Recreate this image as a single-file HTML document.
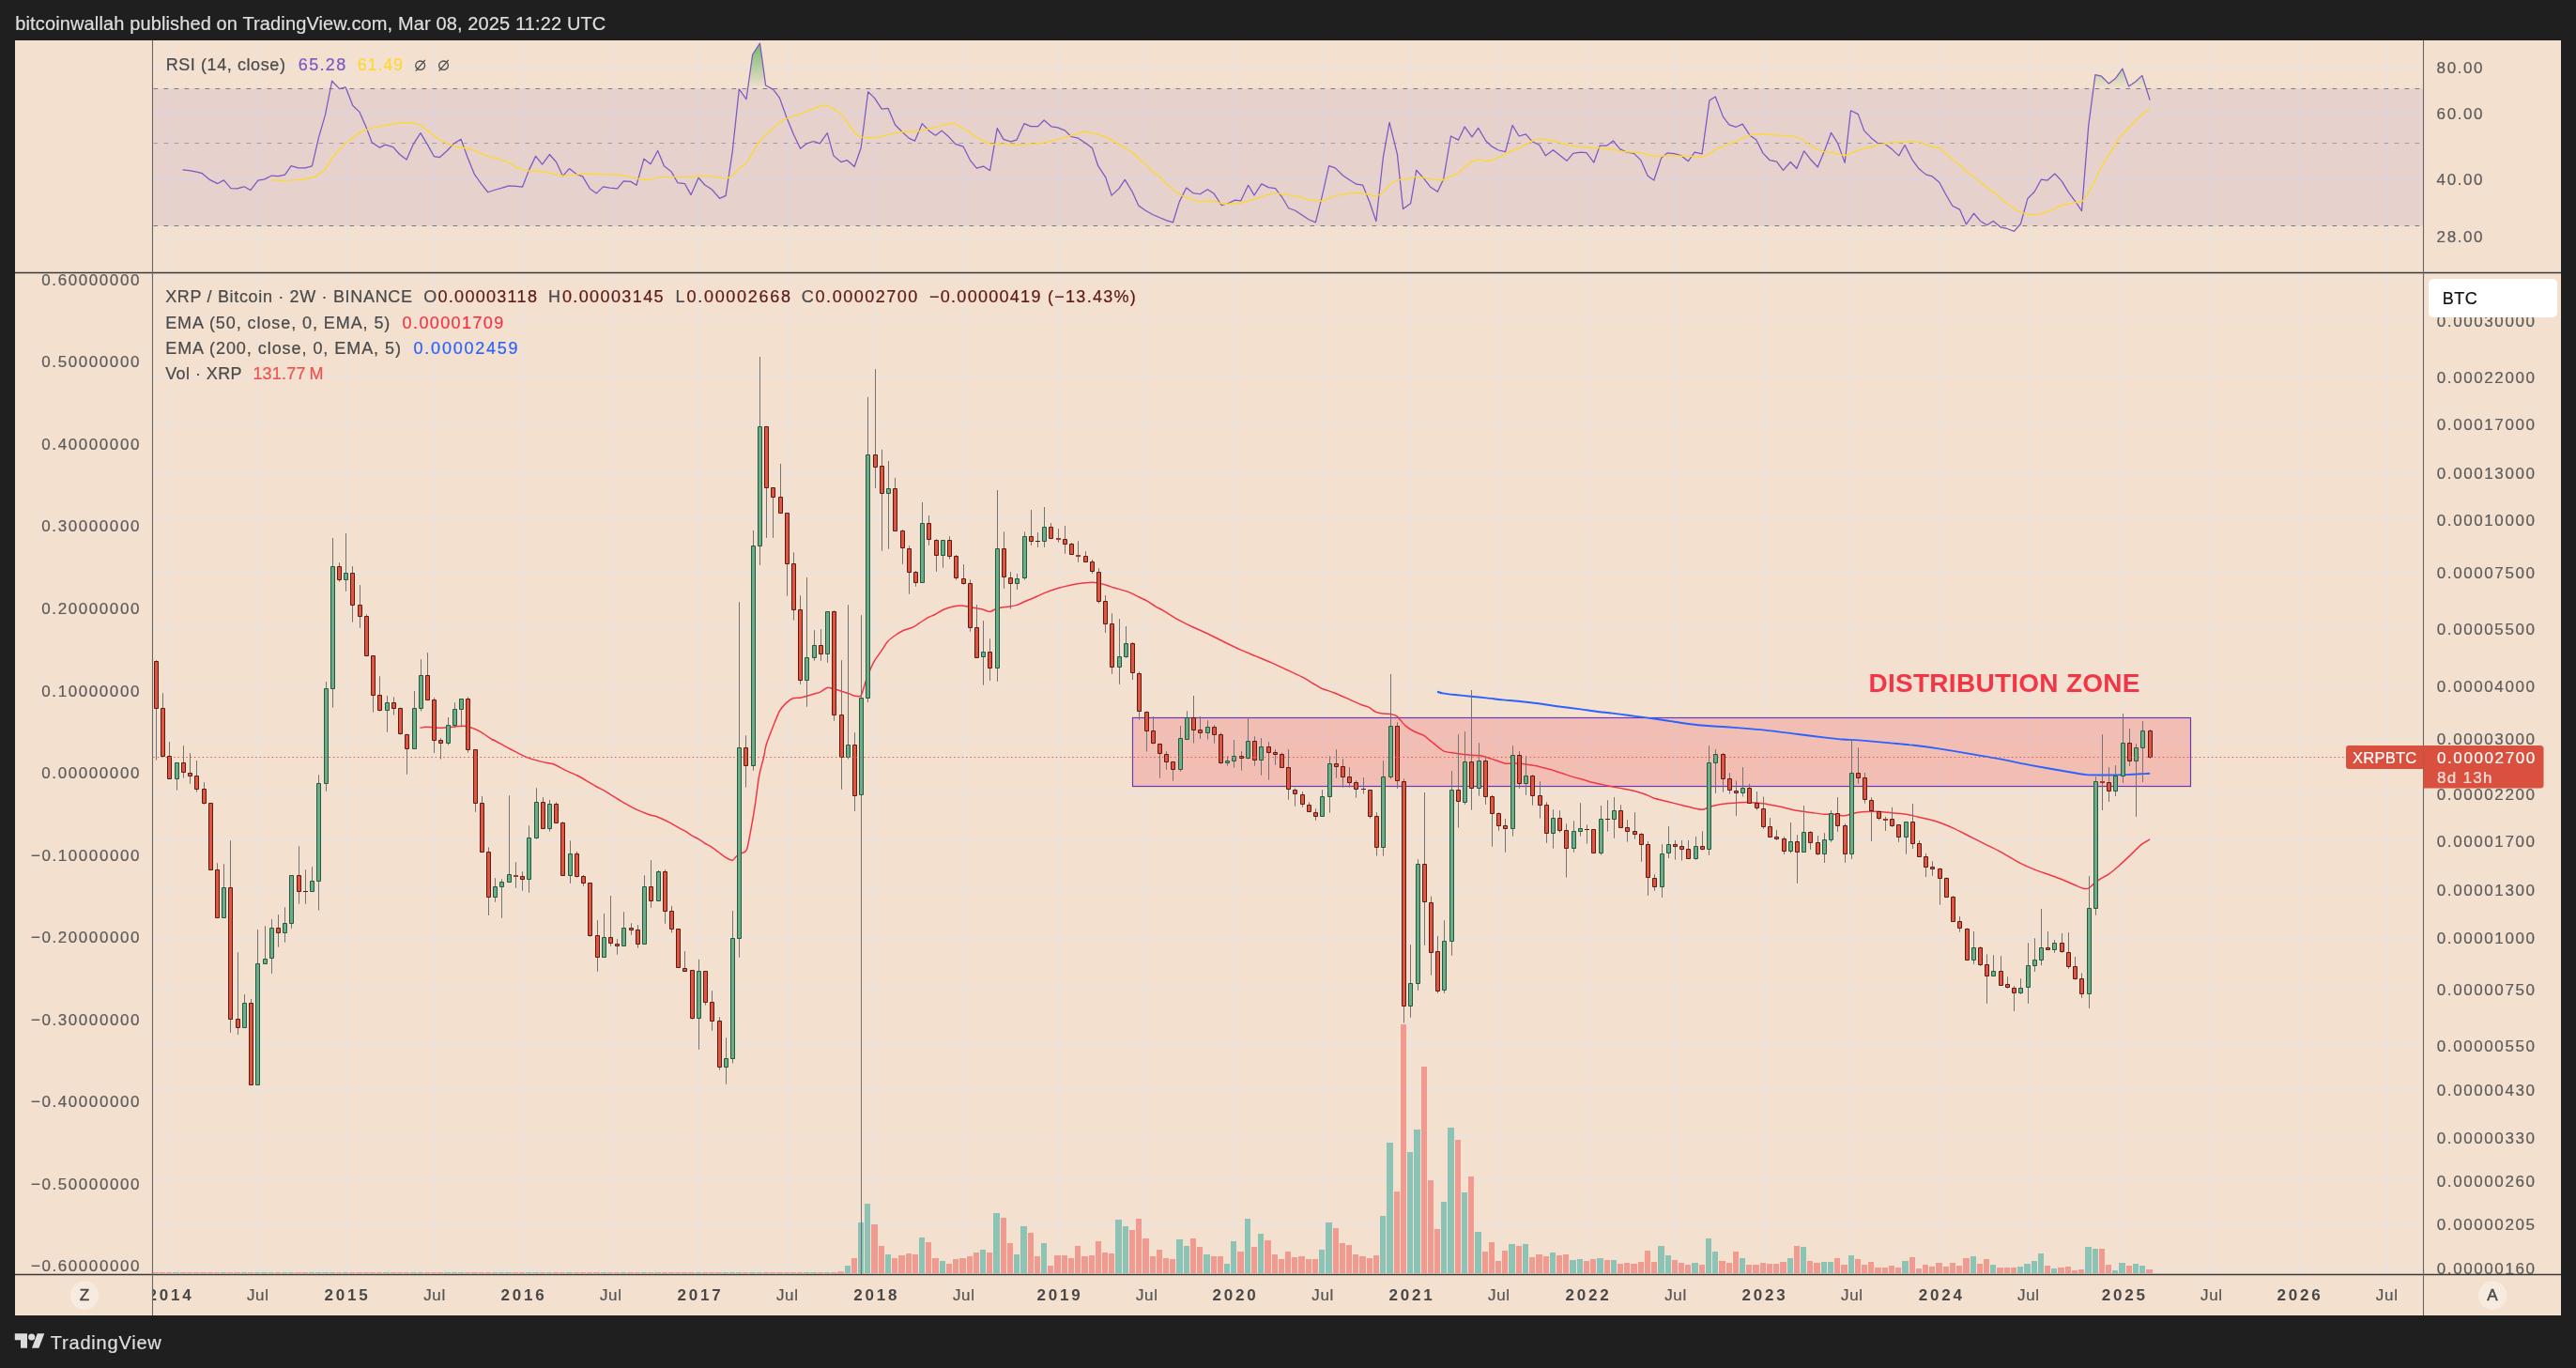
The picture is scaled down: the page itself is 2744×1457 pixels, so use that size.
<!DOCTYPE html>
<html><head><meta charset="utf-8"><title>XRPBTC</title>
<style>
html,body{margin:0;padding:0;background:#1f1f1f;}
body{width:2744px;height:1457px;position:relative;overflow:hidden;font-family:"Liberation Sans",sans-serif;}
.t{position:absolute;white-space:pre;line-height:1;-webkit-text-stroke:0.22px currentColor;}
svg{position:absolute;left:0;top:0;}
</style></head><body>
<svg width="2744" height="1457" viewBox="0 0 2744 1457">
<rect x="16" y="43" width="2712" height="1358" fill="#f3e0cf"/>
<path d="M180.5 43V1357.5M274.5 43V1357.5M368.5 43V1357.5M462.5 43V1357.5M556.5 43V1357.5M650.5 43V1357.5M744.5 43V1357.5M838.5 43V1357.5M932.5 43V1357.5M1026.5 43V1357.5M1127.5 43V1357.5M1221.5 43V1357.5M1314.5 43V1357.5M1408.5 43V1357.5M1502.5 43V1357.5M1596.5 43V1357.5M1690.5 43V1357.5M1784.5 43V1357.5M1878.5 43V1357.5M1972.5 43V1357.5M2066.5 43V1357.5M2160.5 43V1357.5M2261.5 43V1357.5M2355.5 43V1357.5M2448.5 43V1357.5M2542.5 43V1357.5M162.5 71.5H2581.5M162.5 121.5H2581.5M162.5 191.5H2581.5M162.5 252.5H2581.5M162.5 295.5H2581.5M162.5 341.5H2581.5M162.5 401.5H2581.5M162.5 451.5H2581.5M162.5 503.5H2581.5M162.5 553.5H2581.5M162.5 609.5H2581.5M162.5 669.5H2581.5M162.5 730.5H2581.5M162.5 786.5H2581.5M162.5 845.5H2581.5M162.5 895.5H2581.5M162.5 947.5H2581.5M162.5 998.5H2581.5M162.5 1053.5H2581.5M162.5 1113.5H2581.5M162.5 1160.5H2581.5M162.5 1211.5H2581.5M162.5 1257.5H2581.5M162.5 1303.5H2581.5M162.5 1350.5H2581.5" stroke="rgba(227,228,235,0.9)" stroke-width="1" fill="none"/>
<rect x="163.0" y="94.5" width="2418.0" height="146" fill="rgba(126,87,194,0.11)"/>
<defs><linearGradient id="ob" gradientUnits="userSpaceOnUse" x1="0" y1="33" x2="0" y2="94.5"><stop offset="0" stop-color="#4caf50" stop-opacity="1"/><stop offset="1" stop-color="#4caf50" stop-opacity="0"/></linearGradient></defs>
<path d="M352 94.5L353.63 86.23L361.57 94.5Z" fill="url(#ob)"/>
<path d="M361.95 94.5L368.16 92.91L368.78 94.5Z" fill="url(#ob)"/>
<path d="M796.57 94.5L801.66 58.19L809.51 46L815.68 91.07L822.01 94.5Z" fill="url(#ob)"/>
<path d="M2229.91 94.5L2231.88 79.56L2238.56 81.22L2246.4 89.07L2253.41 83.56L2260.92 73.21L2267.6 91.91L2274.78 87.07L2281.79 80.39L2286.28 94.5Z" fill="url(#ob)"/>
<path d="M163.5 94.5H2577.5" stroke="#787b86" stroke-width="1" stroke-dasharray="4.7 6.3" fill="none"/>
<path d="M163.5 152.5H2577.5" stroke="rgba(120,123,134,0.6)" stroke-width="1" stroke-dasharray="4.7 6.3" fill="none"/>
<path d="M163.5 240.5H2577.5" stroke="#787b86" stroke-width="1" stroke-dasharray="4.7 6.3" fill="none"/>
<polyline points="194.55,180.88 201.73,181.55 208.41,182.88 215.42,184.72 223.43,191.4 231.78,195.57 238.45,191.9 245.97,200.58 252.64,200.91 260.16,198.74 266.83,202.58 274.84,192.23 281.86,190.89 289.37,187.06 296.04,187.56 303.56,186.22 310.23,176.71 317.74,178.88 325.26,178.88 332.43,176.87 339.44,146.66 346.46,122.45 353.63,86.23 361.65,94.58 368.16,92.91 375.83,112.44 382.85,119.12 390.36,136.31 396.2,151.67 404.55,157.18 410.39,154.17 418.73,156.67 425.75,164.52 433.09,170.03 440.43,153.34 447.95,141.65 455.46,154.17 462.47,166.69 468.48,167.52 476.32,160.51 483,153.34 491.01,148.33 498.02,167.52 505.54,185.89 512.55,195.57 519.72,204.75 527.24,202.25 534.75,200.08 542.26,197.91 549.77,198.41 556.45,199.24 563.63,180.88 570.64,166.36 577.65,175.04 585.33,164.52 592.5,172.53 599.51,187.56 606.36,179.54 614.2,185.55 620.55,187.89 628.39,200.91 635.4,205.92 642.58,198.91 649.59,200.08 657.6,200.91 664.28,192.9 671.79,193.4 677.97,197.24 685.98,169.19 692.99,174.7 700.67,160.51 707.35,176.71 715.19,182.88 721.87,194.73 729.38,195.57 736.06,207.59 744.07,189.23 750.58,196.74 758.26,201.74 766.61,211.43 773.12,208.42 780.3,160.85 787.31,94.91 794.98,105.76 801.66,58.19 809.51,46 815.68,91.07 823.7,95.41 830.37,104.09 837.88,124.96 845.4,143.32 852.57,158.34 859.58,152.84 866.76,150.5 873.27,152.84 881.28,141.65 887.96,165.86 895.81,172.53 902.15,170.53 910.16,177.54 917.17,157.51 924.69,97.75 931.36,104.09 939.21,116.11 946.05,115.28 953.56,132.97 961.08,140.48 968.09,147.16 974.43,150.16 982.27,131.64 989.45,139.15 996.46,144.16 1003.14,139.15 1010.65,145.82 1017.66,153.34 1026.18,156.17 1033.35,170.53 1040.36,179.21 1047.54,177.04 1054.55,181.71 1062.23,136.64 1068.91,148.33 1076.75,150.83 1083.1,148.83 1090.94,131.64 1098.12,134.64 1105.63,134.64 1112.14,127.96 1120.16,134.97 1126.83,135.81 1134.68,139.15 1141.02,145.49 1148.53,147.16 1156.04,152.17 1163.56,157.84 1169.73,176.71 1177.74,188.89 1184.09,208.09 1191.93,200.91 1198.28,191.4 1206.12,204.25 1212.8,218.94 1220.31,224.28 1227.82,228.45 1235.33,231.79 1242.85,234.8 1249.52,236.8 1256.2,215.1 1263.71,200.08 1270.89,205.58 1278.4,206.75 1286.25,201.74 1292.92,205.92 1301.27,218.77 1307.95,216.77 1315.46,213.1 1321.8,213.76 1329.65,197.24 1335.99,207.92 1343.84,195.9 1351.35,199.57 1358.52,200.58 1365.54,209.76 1372.71,221.78 1379.72,224.28 1387.24,229.29 1394.41,233.96 1401.42,236.8 1408.44,208.42 1415.61,176.71 1422.29,178.88 1430.3,186.72 1437.31,191.4 1444.83,196.24 1451.67,197.24 1459.18,215.93 1465.86,235.63 1473.37,167.52 1480.05,130.47 1488.39,164.19 1494.57,222.61 1502.58,216.77 1508.76,181.21 1515.94,189.23 1523.45,198.91 1531.29,204.25 1537.64,190.89 1545.48,144.99 1553.49,149.16 1560.17,134.97 1568.02,145.82 1574.69,136.31 1582.71,150 1589.38,156.17 1596.39,160.01 1603.57,161.68 1611.08,133.31 1618.09,144.99 1625.27,142.82 1632.28,150.83 1639.79,154.5 1646.47,165.86 1654.48,159.68 1661.66,165.52 1669.01,171.36 1675.68,163.35 1683.7,162.18 1689.87,162.52 1697.88,173.03 1704.23,155.01 1711.74,155.01 1718.42,150 1725.76,158.84 1732.94,162.18 1740.45,163.35 1747.63,170.36 1755.14,187.22 1761.82,192.06 1769.66,168.36 1776.01,162.85 1783.52,163.69 1790.53,165.52 1798.37,171.7 1805.22,162.18 1813.06,163.85 1820.91,107.1 1827.25,102.92 1835.6,124.62 1841.94,132.8 1849.45,135.31 1856.13,132.14 1863.98,144.16 1870.65,148.83 1878.16,163.35 1885.01,170.53 1892.52,172.2 1899.53,181.38 1907.21,172.53 1913.89,179.54 1921.73,160.85 1928.91,170.03 1936.25,178.04 1943.43,160.85 1950.61,141.32 1957.62,152.5 1965.13,173.37 1971.48,117.78 1979.32,121.62 1985.66,139.15 1993.51,147.16 2000.19,152.5 2007.7,153.34 2015.21,158.84 2022.72,165.86 2029.06,154.5 2036.91,170.03 2043.59,179.21 2051.43,185.89 2057.78,187.56 2065.79,194.23 2072.8,207.25 2079.81,219.27 2087.49,223.11 2094.5,238.97 2102.51,227.28 2109.52,235.46 2116.53,239.8 2123.21,235.46 2131.56,242.14 2137.9,243.48 2145.41,246.31 2152.42,238.47 2159.93,211.43 2167.11,204.25 2174.29,191.23 2180.97,192.06 2188.81,185.05 2195.99,192.56 2203.33,204.58 2210.51,214.26 2217.52,224.61 2224.7,134.14 2231.88,79.56 2238.56,81.22 2246.4,89.07 2253.41,83.56 2260.92,73.21 2267.6,91.91 2274.78,87.07 2281.79,80.39 2290.14,106.6" fill="none" stroke="#7e57c2" stroke-width="1.25" stroke-linejoin="round"/>
<path d="M289.37 191.56C290.93 191.69 298.24 192.58 301.89 192.56C305.54 192.54 314.72 191.81 318.58 191.4C322.44 190.98 330.16 189.91 332.77 189.23C335.38 188.54 337.67 187.1 339.44 185.89C341.22 184.68 345.18 181.73 346.96 179.54C348.73 177.35 351.96 170.7 353.63 168.36C355.3 166.02 358.54 162.83 360.31 160.85C362.08 158.87 365.94 154.21 367.82 152.5C369.7 150.79 373.35 148.58 375.33 147.16C377.32 145.74 381.38 142.4 383.68 141.15C385.98 139.9 390.98 137.98 393.7 137.14C396.41 136.31 402.25 135.12 405.38 134.47C408.51 133.83 415.6 132.43 418.73 131.97C421.86 131.51 427.71 130.88 430.42 130.8C433.13 130.72 438.24 130.99 440.43 131.3C442.63 131.62 446.07 132.32 447.95 133.31C449.82 134.29 453.68 137.79 455.46 139.15C457.23 140.5 460.47 142.86 462.14 144.16C463.8 145.45 467.14 148.45 468.81 149.5C470.48 150.54 473.61 151.71 475.49 152.5C477.37 153.29 481.54 155.21 483.84 155.84C486.13 156.47 491.14 156.95 493.85 157.51C496.56 158.07 502.41 159.3 505.54 160.35C508.67 161.39 515.76 164.75 518.89 165.86C522.02 166.96 527.65 168.26 530.57 169.19C533.5 170.13 539.96 172.32 542.26 173.37C544.55 174.41 547.16 176.64 548.94 177.54C550.71 178.44 554.57 179.98 556.45 180.55C558.33 181.11 561.98 181.86 563.96 182.05C565.94 182.24 570.01 181.88 572.31 182.05C574.6 182.21 580.11 182.94 582.32 183.38C584.53 183.82 587.79 185.07 590 185.55C592.21 186.03 597.51 187.12 600.02 187.22C602.52 187.33 607.53 186.62 610.03 186.39C612.53 186.16 617.13 185.49 620.05 185.39C622.97 185.28 630.06 185.49 633.4 185.55C636.74 185.62 643.62 185.8 646.75 185.89C649.88 185.97 655.73 185.97 658.44 186.22C661.15 186.47 665.74 187.35 668.45 187.89C671.17 188.43 677.22 190.14 680.14 190.56C683.06 190.98 689.11 191.44 691.82 191.23C694.54 191.02 698.71 189.25 701.84 188.89C704.97 188.54 712.9 188.45 716.86 188.39C720.83 188.33 729.59 188.49 733.56 188.39C737.52 188.29 745.45 187.62 748.58 187.56C751.71 187.49 756.3 187.68 758.59 187.89C760.89 188.1 765.13 188.95 766.94 189.23C768.76 189.5 771.45 190.37 773.12 190.06C774.79 189.75 778.52 188.04 780.3 186.72C782.07 185.41 785.47 181.21 787.31 179.54C789.14 177.87 793.19 175.5 794.98 173.37C796.78 171.24 799.85 165.44 801.66 162.52C803.48 159.6 807.59 152.54 809.51 150C811.43 147.45 815.25 143.82 817.02 142.15C818.79 140.48 822.03 138.1 823.7 136.64C825.36 135.18 828.6 131.76 830.37 130.47C832.15 129.17 836.01 127.19 837.88 126.29C839.76 125.4 843.52 123.92 845.4 123.29C847.27 122.66 851.03 121.91 852.91 121.29C854.79 120.66 858.54 119.01 860.42 118.28C862.3 117.55 866.16 116.11 867.93 115.44C869.7 114.78 872.94 113.36 874.61 112.94C876.28 112.52 879.62 111.65 881.28 112.11C882.95 112.56 886.19 115.53 887.96 116.61C889.74 117.7 893.6 119.01 895.47 120.79C897.35 122.56 901.15 128.3 902.99 130.8C904.82 133.31 908.39 138.9 910.16 140.82C911.94 142.74 915.36 145.45 917.17 146.16C918.99 146.87 922.91 146.47 924.69 146.49C926.46 146.51 929.59 146.45 931.36 146.33C933.14 146.2 937 145.87 938.87 145.49C940.75 145.12 944.51 143.8 946.39 143.32C948.26 142.84 952.02 142.01 953.9 141.65C955.78 141.3 959.53 140.69 961.41 140.48C963.29 140.27 967.15 140.04 968.92 139.98C970.69 139.92 973.93 140.09 975.6 139.98C977.27 139.88 980.5 139.5 982.27 139.15C984.05 138.79 987.91 137.6 989.79 137.14C991.66 136.69 995.52 135.91 997.3 135.48C999.07 135.04 1002.31 134.08 1003.98 133.64C1005.64 133.2 1008.98 132.22 1010.65 131.97C1012.32 131.72 1016.16 131.47 1017.33 131.64C1018.5 131.8 1018.41 132.37 1020 133.31C1021.59 134.24 1027.51 137.58 1030.02 139.15C1032.52 140.71 1037.01 144.05 1040.03 145.82C1043.06 147.6 1050.46 152.4 1054.22 153.34C1057.98 154.28 1066.43 153.19 1070.08 153.34C1073.73 153.48 1080.51 154.44 1083.43 154.5C1086.35 154.57 1090.53 154.05 1093.45 153.84C1096.37 153.63 1103.46 153.32 1106.8 152.84C1110.14 152.36 1116.82 150.77 1120.16 150C1123.49 149.23 1130.8 147.43 1133.51 146.66C1136.22 145.89 1139.98 144.34 1141.86 143.82C1143.73 143.3 1146.86 142.97 1148.53 142.49C1150.2 142.01 1153.33 140.09 1155.21 139.98C1157.09 139.88 1160.84 140.96 1163.56 141.65C1166.27 142.34 1173.99 144.34 1176.91 145.49C1179.83 146.64 1184.42 149.37 1186.93 150.83C1189.43 152.29 1194.44 155.67 1196.94 157.18C1199.44 158.68 1204.87 161.35 1206.96 162.85C1209.04 164.35 1211.96 167.71 1213.63 169.19C1215.3 170.68 1218.54 173.08 1220.31 174.7C1222.08 176.33 1225.94 180.5 1227.82 182.21C1229.7 183.93 1233.46 186.68 1235.33 188.39C1237.21 190.1 1241.07 194.23 1242.85 195.9C1244.62 197.57 1247.85 200.39 1249.52 201.74C1251.19 203.1 1254.43 205.71 1256.2 206.75C1257.97 207.8 1261.94 209.36 1263.71 210.09C1265.48 210.82 1268.51 212.03 1270.39 212.59C1272.27 213.16 1276.65 214.43 1278.73 214.6C1280.82 214.76 1285.2 213.93 1287.08 213.93C1288.96 213.93 1291.88 214.24 1293.76 214.6C1295.64 214.95 1300.02 216.43 1302.1 216.77C1304.19 217.1 1308.16 217.33 1310.45 217.27C1312.75 217.21 1318.17 216.64 1320.47 216.27C1322.76 215.89 1326.73 214.83 1328.81 214.26C1330.9 213.7 1335.28 212.34 1337.16 211.76C1339.04 211.18 1342.06 210.17 1343.84 209.59C1345.61 209.01 1349.47 207.55 1351.35 207.09C1353.22 206.63 1356.88 205.96 1358.86 205.92C1360.84 205.88 1365.12 206.48 1367.2 206.75C1369.29 207.02 1373.46 207.71 1375.55 208.09C1377.64 208.46 1381.6 209.19 1383.9 209.76C1386.19 210.32 1391.62 212.07 1393.91 212.59C1396.21 213.12 1400.38 213.78 1402.26 213.93C1404.14 214.08 1407.27 214.08 1408.94 213.76C1410.61 213.45 1413.94 212.09 1415.61 211.43C1417.28 210.76 1420.41 208.94 1422.29 208.42C1424.17 207.9 1428.76 207.57 1430.64 207.25C1432.51 206.94 1434.89 206.13 1437.31 205.92C1439.73 205.71 1447.37 205.42 1450 205.58C1452.63 205.75 1456.36 206.86 1458.35 207.25C1460.33 207.65 1463.88 209.13 1465.86 208.76C1467.84 208.38 1472.33 205.81 1474.2 204.25C1476.08 202.68 1479.11 197.76 1480.88 196.24C1482.65 194.71 1486.2 192.73 1488.39 192.06C1490.58 191.4 1496.01 191.35 1498.41 190.89C1500.81 190.44 1505.29 188.6 1507.59 188.39C1509.88 188.18 1514.58 188.91 1516.77 189.23C1518.96 189.54 1523.03 190.58 1525.12 190.89C1527.2 191.21 1531.79 191.69 1533.46 191.73C1535.13 191.77 1537.01 191.71 1538.47 191.23C1539.93 190.75 1543.27 188.77 1545.15 187.89C1547.03 187.01 1551.62 185.45 1553.49 184.22C1555.37 182.99 1558.36 179.54 1560.17 178.04C1561.99 176.54 1566.2 173.24 1568.02 172.2C1569.83 171.16 1572.86 169.8 1574.69 169.69C1576.53 169.59 1580.87 171.26 1582.71 171.36C1584.54 171.47 1587.67 171.01 1589.38 170.53C1591.09 170.05 1594.62 168.36 1596.39 167.52C1598.17 166.69 1601.74 164.73 1603.57 163.85C1605.41 162.98 1609.27 161.31 1611.08 160.51C1612.9 159.72 1616.32 158.3 1618.09 157.51C1619.87 156.72 1623.5 155.11 1625.27 154.17C1627.05 153.23 1630.47 150.79 1632.28 150C1634.1 149.2 1637.96 147.93 1639.79 147.83C1641.63 147.72 1645.14 148.89 1646.97 149.16C1648.81 149.43 1652.61 149.62 1654.48 150C1656.36 150.37 1660.18 151.69 1662 152.17C1663.81 152.65 1667.3 153.42 1669.01 153.84C1670.72 154.25 1673.85 155.19 1675.68 155.51C1677.52 155.82 1681.86 156.15 1683.7 156.34C1685.53 156.53 1688.6 156.82 1690.37 157.01C1692.15 157.2 1696.15 157.78 1697.88 157.84C1699.62 157.91 1702.45 157.38 1704.23 157.51C1706 157.63 1710.26 158.59 1712.07 158.84C1713.89 159.1 1716.98 159.26 1718.75 159.51C1720.52 159.76 1724.38 160.58 1726.26 160.85C1728.14 161.12 1732 161.52 1733.77 161.68C1735.55 161.85 1738.72 162.04 1740.45 162.18C1742.18 162.33 1745.79 162.56 1747.63 162.85C1749.46 163.14 1753.37 164.1 1755.14 164.52C1756.91 164.94 1760 165.98 1761.82 166.19C1763.63 166.4 1767.85 166.23 1769.66 166.19C1771.48 166.15 1774.57 165.9 1776.34 165.86C1778.11 165.81 1782.08 165.81 1783.85 165.86C1785.62 165.9 1788.71 166.15 1790.53 166.19C1792.34 166.23 1796.5 166.13 1798.37 166.19C1800.25 166.25 1803.72 166.57 1805.55 166.69C1807.39 166.82 1811.14 167.55 1813.06 167.19C1814.98 166.84 1819.13 164.85 1820.91 163.85C1822.68 162.85 1825.42 160.18 1827.25 159.18C1829.09 158.18 1833.72 156.57 1835.6 155.84C1837.48 155.11 1840.54 153.96 1842.27 153.34C1844.01 152.71 1847.72 151.6 1849.45 150.83C1851.18 150.06 1854.31 147.99 1856.13 147.16C1857.94 146.33 1862.16 144.7 1863.98 144.16C1865.79 143.61 1868.65 142.99 1870.65 142.82C1872.66 142.65 1877.58 142.69 1880 142.82C1882.42 142.95 1887.3 143.61 1890.02 143.82C1892.73 144.03 1898.78 144.24 1901.7 144.49C1904.62 144.74 1910.88 145.14 1913.39 145.82C1915.89 146.51 1919.64 148.75 1921.73 150C1923.82 151.25 1928.2 154.69 1930.08 155.84C1931.96 156.99 1935.09 158.45 1936.75 159.18C1938.42 159.91 1941.55 161.27 1943.43 161.68C1945.31 162.1 1949.9 162.2 1951.78 162.52C1953.66 162.83 1956.79 163.81 1958.45 164.19C1960.12 164.56 1963.5 165.63 1965.13 165.52C1966.76 165.42 1969.7 164 1971.48 163.35C1973.25 162.7 1977.4 161.04 1979.32 160.35C1981.24 159.66 1985.06 158.3 1986.83 157.84C1988.61 157.38 1991.84 157.13 1993.51 156.67C1995.18 156.22 1998.41 154.59 2000.19 154.17C2001.96 153.75 2005.82 153.65 2007.7 153.34C2009.58 153.02 2013.33 151.88 2015.21 151.67C2017.09 151.46 2020.99 151.77 2022.72 151.67C2024.45 151.56 2027.29 151 2029.06 150.83C2030.84 150.67 2035.09 150.27 2036.91 150.33C2038.73 150.39 2041.77 150.89 2043.59 151.33C2045.4 151.77 2049.66 153.23 2051.43 153.84C2053.21 154.44 2055.98 155.71 2057.78 156.17C2059.57 156.63 2063.91 156.55 2065.79 157.51C2067.67 158.47 2070.98 162.29 2072.8 163.85C2074.61 165.42 2078.47 168.53 2080.31 170.03C2082.15 171.53 2085.71 174.31 2087.49 175.87C2089.26 177.44 2092.62 181.02 2094.5 182.55C2096.38 184.07 2100.63 186.6 2102.51 188.06C2104.39 189.52 2107.77 192.83 2109.52 194.23C2111.28 195.63 2114.82 197.95 2116.53 199.24C2118.24 200.53 2121.33 203.06 2123.21 204.58C2125.09 206.11 2129.72 209.9 2131.56 211.43C2133.39 212.95 2136.17 215.47 2137.9 216.77C2139.63 218.06 2143.6 220.63 2145.41 221.78C2147.23 222.92 2150.61 225.18 2152.42 225.95C2154.24 226.72 2158.1 227.6 2159.93 227.95C2161.77 228.31 2165.32 228.83 2167.11 228.79C2168.91 228.74 2172.56 228.01 2174.29 227.62C2176.02 227.22 2179.15 226.28 2180.97 225.61C2182.78 224.95 2186.93 223.13 2188.81 222.28C2190.69 221.42 2194.17 219.4 2195.99 218.77C2197.81 218.14 2201.52 217.67 2203.33 217.27C2205.15 216.87 2208.74 215.93 2210.51 215.6C2212.29 215.27 2215.75 215.91 2217.52 214.6C2219.3 213.28 2222.91 207.94 2224.7 205.08C2226.5 202.22 2230.15 195.17 2231.88 191.73C2233.61 188.29 2236.74 180.88 2238.56 177.54C2240.37 174.2 2244.54 168.05 2246.4 165.02C2248.26 162 2251.6 156.01 2253.41 153.34C2255.23 150.67 2259.15 145.89 2260.92 143.65C2262.7 141.42 2265.87 137.29 2267.6 135.48C2269.33 133.66 2273.01 130.86 2274.78 129.13C2276.55 127.4 2279.87 123.19 2281.79 121.62C2283.71 120.06 2289.09 117.24 2290.14 116.61" fill="none" stroke="#fdd835" stroke-width="1.4" stroke-linejoin="round"/>
<ellipse cx="447.7" cy="69.7" rx="4.9" ry="4.7" fill="none" stroke="#4a4a4a" stroke-width="1.3"/><path d="M442.8 75.6L452.9 63.8" stroke="#4a4a4a" stroke-width="1.3" fill="none"/>
<ellipse cx="472.5" cy="69.7" rx="4.9" ry="4.7" fill="none" stroke="#4a4a4a" stroke-width="1.3"/><path d="M467.6 75.6L477.7 63.8" stroke="#4a4a4a" stroke-width="1.3" fill="none"/>
<path d="M163 1355H169V1356H163ZM170 1355H176V1356H170ZM177 1355H183V1356H177ZM192 1355H198V1356H192ZM199 1355H205V1356H199ZM206 1355H212V1356H206ZM213 1355H220V1356H213ZM221 1355H227V1356H221ZM228 1355H234V1356H228ZM242 1355H248V1356H242ZM249 1355H256V1356H249ZM264 1355H270V1356H264ZM293 1355H299V1356H293ZM314 1355H321V1356H314ZM322 1355H328V1356H322ZM358 1355H364V1356H358ZM372 1355H378V1356H372ZM379 1355H386V1356H379ZM387 1355H393V1356H387ZM394 1355H400V1356H394ZM401 1355H407V1356H401ZM416 1355H422V1356H416ZM423 1355H429V1356H423ZM430 1355H436V1356H430ZM452 1355H458V1356H452ZM459 1355H465V1356H459ZM466 1355H472V1356H466ZM495 1355H501V1356H495ZM502 1355H509V1356H502ZM510 1355H516V1356H510ZM517 1355H523V1356H517ZM546 1355H552V1356H546ZM553 1355H559V1356H553ZM575 1355H581V1356H575ZM589 1355H595V1356H589ZM596 1355H602V1356H596ZM611 1355H617V1356H611ZM618 1355H624V1356H618ZM625 1355H631V1356H625ZM632 1355H639V1356H632ZM647 1355H653V1356H647ZM654 1355H660V1356H654ZM668 1355H675V1356H668ZM676 1355H682V1356H676ZM690 1355H696V1356H690ZM705 1355H711V1356H705ZM712 1355H718V1356H712ZM719 1355H725V1356H719ZM726 1355H732V1356H726ZM733 1355H740V1356H733ZM748 1355H754V1356H748ZM755 1355H761V1356H755ZM762 1355H769V1356H762ZM791 1355H797V1356H791ZM813 1355H819V1356H813ZM820 1355H826V1356H820ZM827 1355H834V1356H827ZM835 1355H841V1356H835ZM842 1355H848V1356H842ZM849 1355H855V1356H849ZM871 1355H877V1356H871ZM885 1355H891V1356H885ZM892 1354.18H899V1356H892ZM907 1340.06H913V1356H907ZM928 1304.01H935V1356H928ZM936 1327.07H942V1356H936ZM950 1340.06H956V1356H950ZM957 1336.99H964V1356H957ZM965 1335.03H971V1356H965ZM972 1336.01H978V1356H972ZM986 1323.01H992V1356H986ZM993 1340.06H1000V1356H993ZM1008 1346.07H1014V1356H1008ZM1015 1341.04H1021V1356H1015ZM1022 1340.06H1029V1356H1022ZM1030 1337.97H1036V1356H1030ZM1037 1334.05H1043V1356H1037ZM1051 1334.05H1057V1356H1051ZM1066 1297.02H1072V1356H1066ZM1073 1323.99H1079V1356H1073ZM1095 1312.95H1101V1356H1095ZM1102 1337.97H1108V1356H1102ZM1116 1348.03H1122V1356H1116ZM1123 1336.99H1130V1356H1123ZM1131 1336.99H1137V1356H1131ZM1138 1340.06H1144V1356H1138ZM1145 1327.07H1151V1356H1145ZM1152 1337.97H1159V1356H1152ZM1160 1336.99H1166V1356H1160ZM1167 1322.03H1173V1356H1167ZM1174 1334.05H1180V1356H1174ZM1181 1335.03H1187V1356H1181ZM1203 1310.02H1209V1356H1203ZM1210 1298H1216V1356H1210ZM1217 1318.96H1224V1356H1217ZM1225 1337.97H1231V1356H1225ZM1232 1330.98H1238V1356H1232ZM1239 1340.06H1245V1356H1239ZM1246 1341.04H1252V1356H1246ZM1268 1318.96H1274V1356H1268ZM1275 1328.04H1281V1356H1275ZM1290 1337.97H1296V1356H1290ZM1297 1337.97H1303V1356H1297ZM1318 1332.93H1325V1356H1318ZM1333 1328.04H1339V1356H1333ZM1347 1321.06H1354V1356H1347ZM1355 1336.01H1361V1356H1355ZM1362 1341.04H1368V1356H1362ZM1369 1332.93H1375V1356H1369ZM1376 1338.94H1382V1356H1376ZM1383 1337.97H1390V1356H1383ZM1391 1341.04H1397V1356H1391ZM1398 1341.04H1404V1356H1398ZM1420 1308.06H1426V1356H1420ZM1427 1323.99H1433V1356H1427ZM1434 1325.95H1440V1356H1434ZM1441 1336.01H1447V1356H1441ZM1448 1337.97H1455V1356H1448ZM1456 1340.06H1462V1356H1456ZM1463 1336.99H1469V1356H1463ZM1485 1269.07H1491V1356H1485ZM1492 1091.11H1498V1356H1492ZM1514 1136.11H1520V1356H1514ZM1521 1257.05H1527V1356H1521ZM1528 1309.04H1534V1356H1528ZM1550 1214.03H1556V1356H1550ZM1564 1253H1570V1356H1564ZM1579 1332.93H1585V1356H1579ZM1586 1323.01H1592V1356H1586ZM1593 1343H1599V1356H1593ZM1600 1331.96H1606V1356H1600ZM1615 1326.93H1621V1356H1615ZM1629 1338.94H1635V1356H1629ZM1636 1336.01H1643V1356H1636ZM1644 1337.97H1650V1356H1644ZM1658 1336.99H1664V1356H1658ZM1665 1336.01H1671V1356H1665ZM1687 1343H1693V1356H1687ZM1694 1341.04H1700V1356H1694ZM1709 1342.02H1715V1356H1709ZM1723 1346.07H1729V1356H1723ZM1730 1345.09H1736V1356H1730ZM1737 1346.07H1744V1356H1737ZM1745 1343.98H1751V1356H1745ZM1752 1331.96H1758V1356H1752ZM1759 1343.98H1765V1356H1759ZM1781 1342.02H1787V1356H1781ZM1788 1345.09H1794V1356H1788ZM1795 1347.05H1801V1356H1795ZM1810 1347.05H1816V1356H1810ZM1831 1343H1838V1356H1831ZM1839 1345.09H1845V1356H1839ZM1846 1332.93H1852V1356H1846ZM1860 1347.05H1866V1356H1860ZM1867 1347.05H1874V1356H1867ZM1875 1345.09H1881V1356H1875ZM1882 1346.07H1888V1356H1882ZM1889 1346.07H1895V1356H1889ZM1896 1343.98H1903V1356H1896ZM1911 1326.93H1917V1356H1911ZM1925 1343H1931V1356H1925ZM1932 1345.09H1939V1356H1932ZM1954 1340.06H1960V1356H1954ZM1961 1347.05H1968V1356H1961ZM1976 1341.04H1982V1356H1976ZM1983 1347.05H1989V1356H1983ZM1990 1343.98H1996V1356H1990ZM1997 1349.98H2004V1356H1997ZM2005 1349.98H2011V1356H2005ZM2012 1348.03H2018V1356H2012ZM2019 1349.98H2025V1356H2019ZM2034 1338.94H2040V1356H2034ZM2041 1350.96H2047V1356H2041ZM2048 1347.05H2054V1356H2048ZM2055 1349.01H2061V1356H2055ZM2062 1345.09H2069V1356H2062ZM2070 1349.01H2076V1356H2070ZM2077 1345.09H2083V1356H2077ZM2084 1348.03H2090V1356H2084ZM2091 1340.06H2098V1356H2091ZM2106 1346.07H2112V1356H2106ZM2113 1341.04H2119V1356H2113ZM2127 1349.98H2134V1356H2127ZM2135 1349.98H2141V1356H2135ZM2142 1349.98H2148V1356H2142ZM2178 1348.03H2184V1356H2178ZM2192 1349.98H2199V1356H2192ZM2200 1349.01H2206V1356H2200ZM2207 1353.06H2213V1356H2207ZM2214 1352.08H2220V1356H2214ZM2236 1330H2242V1356H2236ZM2243 1347.05H2249V1356H2243ZM2265 1348.03H2271V1356H2265ZM2286 1352.08H2293V1356H2286Z" fill="rgba(239,83,80,0.5)"/>
<path d="M184 1355H191V1356H184ZM235 1355H241V1356H235ZM257 1355H263V1356H257ZM271 1355H277V1356H271ZM278 1355H285V1356H278ZM286 1355H292V1356H286ZM300 1355H306V1356H300ZM307 1355H313V1356H307ZM329 1355H335V1356H329ZM336 1355H342V1356H336ZM343 1355H350V1356H343ZM351 1355H357V1356H351ZM365 1355H371V1356H365ZM408 1355H415V1356H408ZM437 1355H444V1356H437ZM445 1355H451V1356H445ZM473 1355H480V1356H473ZM481 1355H487V1356H481ZM488 1355H494V1356H488ZM524 1355H530V1356H524ZM531 1355H537V1356H531ZM538 1355H545V1356H538ZM560 1355H566V1356H560ZM567 1355H574V1356H567ZM582 1355H588V1356H582ZM603 1355H610V1356H603ZM640 1355H646V1356H640ZM661 1355H667V1356H661ZM683 1355H689V1356H683ZM697 1355H704V1356H697ZM741 1355H747V1356H741ZM770 1355H776V1356H770ZM777 1355H783V1356H777ZM784 1355H790V1356H784ZM798 1355H805V1356H798ZM806 1355H812V1356H806ZM856 1355H862V1356H856ZM863 1355H870V1356H863ZM878 1355H884V1356H878ZM900 1348.03H906V1356H900ZM914 1302.05H920V1356H914ZM921 1281.93H927V1356H921ZM943 1336.01H949V1356H943ZM979 1317.98H985V1356H979ZM1001 1343H1007V1356H1001ZM1044 1330.98H1050V1356H1044ZM1058 1291.99H1065V1356H1058ZM1080 1336.01H1086V1356H1080ZM1087 1305.96H1094V1356H1087ZM1109 1323.99H1115V1356H1109ZM1188 1298.98H1195V1356H1188ZM1196 1305.96H1202V1356H1196ZM1253 1319.94H1260V1356H1253ZM1261 1327.07H1267V1356H1261ZM1282 1336.01H1289V1356H1282ZM1304 1346.07H1310V1356H1304ZM1311 1322.03H1317V1356H1311ZM1326 1298H1332V1356H1326ZM1340 1314.07H1346V1356H1340ZM1405 1330.98H1411V1356H1405ZM1412 1302.05H1419V1356H1412ZM1470 1295.06H1476V1356H1470ZM1477 1216.94H1484V1356H1477ZM1499 1226.94H1505V1356H1499ZM1506 1203.06H1513V1356H1506ZM1535 1279.97H1541V1356H1535ZM1542 1200.97H1549V1356H1542ZM1557 1270.05H1563V1356H1557ZM1571 1311.97H1578V1356H1571ZM1607 1324.97H1614V1356H1607ZM1622 1324.97H1628V1356H1622ZM1651 1334.05H1657V1356H1651ZM1672 1342.02H1679V1356H1672ZM1680 1341.04H1686V1356H1680ZM1701 1340.06H1708V1356H1701ZM1716 1342.02H1722V1356H1716ZM1766 1326.93H1773V1356H1766ZM1774 1336.99H1780V1356H1774ZM1802 1345.09H1809V1356H1802ZM1817 1318.96H1823V1356H1817ZM1824 1332.93H1830V1356H1824ZM1853 1340.06H1859V1356H1853ZM1904 1340.06H1910V1356H1904ZM1918 1328.04H1924V1356H1918ZM1940 1343.98H1946V1356H1940ZM1947 1343.98H1953V1356H1947ZM1969 1336.99H1975V1356H1969ZM2026 1343H2033V1356H2026ZM2099 1337.97H2105V1356H2099ZM2120 1347.05H2126V1356H2120ZM2149 1349.01H2155V1356H2149ZM2156 1346.07H2163V1356H2156ZM2164 1343H2170V1356H2164ZM2171 1335.03H2177V1356H2171ZM2185 1350.96H2191V1356H2185ZM2221 1328.04H2228V1356H2221ZM2229 1330H2235V1356H2229ZM2250 1353.06H2256V1356H2250ZM2257 1345.09H2264V1356H2257ZM2272 1346.07H2278V1356H2272ZM2279 1348.03H2285V1356H2279Z" fill="rgba(38,166,154,0.5)"/>
<rect x="1206.5" y="764.5" width="1127" height="73" fill="rgba(242,54,69,0.2)" stroke="#673ab7" stroke-width="1.2"/>
<path d="M447.45 775.33C448.24 775.19 451.12 774.17 453.79 774.17C456.46 774.17 464.01 775.44 468.81 775.33C473.61 775.23 488.22 773.44 492.18 773.33C496.15 773.23 498.23 773.83 500.53 774.5C502.82 775.17 507.52 776.98 510.54 778.67C513.57 780.36 522.85 786.83 524.73 788C526.61 789.17 523.17 786.77 525.57 788.02C527.97 789.27 539.55 795.72 543.93 798.02C548.31 800.31 556.45 804.69 560.62 806.36C564.79 808.03 573.64 810.41 577.31 811.37C580.99 812.33 586.95 812.91 590 814.01C593.05 815.11 598.55 818.69 601.68 820.19C604.81 821.69 611.91 824.47 615.04 826.03C618.17 827.6 624.22 831.25 626.72 832.71C629.23 834.17 632.98 836.57 635.07 837.72C637.16 838.86 641.54 840.85 643.42 841.89C645.29 842.93 647.59 844.5 650.09 846.06C652.6 847.63 659.9 852.36 663.45 854.41C666.99 856.45 674.92 860.75 678.47 862.42C682.02 864.09 689.11 866.82 691.82 867.76C694.54 868.7 697.46 868.89 700.17 869.93C702.88 870.98 710.6 874.61 713.52 876.11C716.45 877.61 721.45 880.8 723.54 881.95C725.63 883.1 728.55 884.29 730.22 885.29C731.89 886.29 735.23 888.96 736.89 889.96C738.56 890.97 741.9 892.32 743.57 893.3C745.24 894.28 748.58 896.79 750.25 897.81C751.92 898.83 755.05 900.27 756.93 901.48C758.8 902.69 763.19 905.97 765.27 907.49C767.36 909.01 771.74 912.58 773.62 913.67C775.5 914.75 778.94 916.38 780.3 916.17C781.65 915.96 783.32 912.94 784.47 912C785.62 911.06 788.12 909.49 789.48 908.66C790.83 907.82 793.96 908.76 795.32 905.32C796.67 901.88 799.18 887.27 800.33 881.12C801.47 874.96 803.46 862.96 804.5 856.08C805.54 849.19 807.52 832.29 808.67 826.03C809.82 819.77 812.74 810.09 813.68 806C814.62 801.91 814.93 797.42 816.18 793.33C817.44 789.25 821.92 777.79 823.7 773.3C825.47 768.82 828.7 760.47 830.37 757.44C832.04 754.42 835.28 750.81 837.05 749.1C838.82 747.39 842.68 744.49 844.56 743.76C846.44 743.03 850.2 743.57 852.07 743.26C853.95 742.94 857.71 741.77 859.58 741.25C861.46 740.73 865.32 739.6 867.1 739.08C868.87 738.56 872 737.91 873.77 737.08C875.55 736.25 879.41 732.78 881.28 732.41C883.16 732.03 886.92 733.6 888.8 734.08C890.67 734.56 894.43 735.68 896.31 736.25C898.19 736.81 902.05 737.96 903.82 738.58C905.59 739.21 908.83 740.98 910.5 741.25C912.17 741.52 915.82 742.38 917.17 740.75C918.53 739.12 920.3 731.26 921.35 728.23C922.39 725.21 924.27 719.57 925.52 716.55C926.77 713.52 929.69 706.95 931.36 704.03C933.03 701.11 937.1 695.79 938.87 693.18C940.65 690.57 943.67 685.25 945.55 683.16C947.43 681.08 951.81 677.95 953.9 676.49C955.98 675.03 959.95 672.52 962.24 671.48C964.54 670.43 970.17 669.08 972.26 668.14C974.35 667.2 976.95 665.26 978.94 663.97C980.92 662.67 986.03 658.94 988.12 657.79C990.2 656.64 993.65 655.79 995.63 654.79C997.61 653.78 1001.89 650.78 1003.98 649.78C1006.06 648.78 1010.32 647.34 1012.32 646.77C1014.32 646.21 1018.21 645.46 1020 645.27C1021.79 645.08 1024.59 644.98 1026.68 645.23C1028.76 645.47 1034.19 646.75 1036.69 647.23C1039.2 647.71 1044.52 648.52 1046.71 649.06C1048.9 649.61 1052.55 651.57 1054.22 651.57C1055.89 651.57 1058.5 649.65 1060.06 649.06C1061.63 648.48 1064.86 647.27 1066.74 646.89C1068.62 646.52 1073 646.37 1075.09 646.06C1077.17 645.75 1081.35 645.08 1083.43 644.39C1085.52 643.7 1089.69 641.45 1091.78 640.55C1093.86 639.65 1097.62 638.3 1100.12 637.21C1102.63 636.13 1108.47 633.21 1111.81 631.87C1115.15 630.54 1123.29 627.61 1126.83 626.53C1130.38 625.44 1136.85 623.88 1140.19 623.19C1143.52 622.5 1150.62 621.4 1153.54 621.02C1156.46 620.65 1161.47 620.19 1163.56 620.19C1165.64 620.19 1168.36 620.65 1170.23 621.02C1172.11 621.4 1176.49 622.57 1178.58 623.19C1180.67 623.82 1184.63 625.32 1186.93 626.03C1189.22 626.74 1194.65 628.14 1196.94 628.87C1199.24 629.6 1203.2 630.97 1205.29 631.87C1207.37 632.77 1211.55 635 1213.63 636.04C1215.72 637.09 1219.89 639.03 1221.98 640.22C1224.07 641.41 1228.03 644.2 1230.33 645.56C1232.62 646.92 1237.42 649.34 1240.34 651.07C1243.26 652.8 1249.94 657.33 1253.7 659.41C1257.45 661.5 1266.22 665.78 1270.39 667.76C1274.56 669.74 1282.49 673.08 1287.08 675.27C1291.67 677.46 1302.94 683.24 1307.11 685.29C1311.28 687.33 1316.71 689.96 1320.47 691.63C1324.22 693.3 1332.99 696.89 1337.16 698.64C1341.33 700.39 1349.68 703.82 1353.85 705.65C1358.02 707.49 1366.37 711.39 1370.54 713.33C1374.72 715.27 1383.69 719.34 1387.24 721.18C1390.78 723.01 1396.42 726.54 1398.92 728.02C1401.42 729.5 1404.55 731.8 1407.27 733.01C1409.98 734.22 1417.28 736.39 1420.62 737.68C1423.96 738.98 1430.3 741.75 1433.98 743.36C1437.65 744.96 1446.95 749.28 1450 750.53C1453.05 751.79 1456.47 752.46 1458.35 753.4C1460.22 754.34 1463.15 757.24 1465.02 758.07C1466.9 758.91 1471.28 759.79 1473.37 760.08C1475.46 760.37 1479.84 760.04 1481.72 760.41C1483.59 760.79 1486.51 761.56 1488.39 763.08C1490.27 764.61 1494.44 770.57 1496.74 772.6C1499.03 774.62 1504.25 777.92 1506.75 779.27C1509.26 780.63 1514.47 782.09 1516.77 783.45C1519.07 784.8 1522.51 788.08 1525.12 790.12C1527.72 792.17 1534.51 798.3 1537.64 799.81C1540.77 801.31 1546.5 801.58 1550.16 802.14C1553.81 802.71 1563.51 803.98 1566.85 804.31C1570.19 804.65 1574.15 804.33 1576.86 804.81C1579.58 805.29 1585.21 807.11 1588.55 808.15C1591.89 809.2 1600.02 812.55 1603.57 813.16C1607.12 813.77 1614 812.85 1616.93 812.99C1619.85 813.14 1624.23 813.93 1626.94 814.33C1629.65 814.72 1635.7 815.54 1638.63 816.16C1641.55 816.79 1647.18 818.42 1650.31 819.34C1653.44 820.25 1660.53 822.51 1663.66 823.51C1666.79 824.51 1672.43 826.47 1675.35 827.35C1678.27 828.22 1684.32 829.75 1687.03 830.52C1689.75 831.29 1694.13 832.79 1697.05 833.52C1699.97 834.26 1706.86 835.63 1710.4 836.36C1713.95 837.09 1721.46 838.57 1725.43 839.37C1729.39 840.16 1738.57 841.81 1742.12 842.71C1745.67 843.6 1751.3 845.61 1753.8 846.55C1756.31 847.48 1759.44 849.34 1762.15 850.22C1764.86 851.09 1771.75 852.62 1775.5 853.56C1779.26 854.49 1788.44 856.79 1792.2 857.73C1795.95 858.67 1802.94 860.5 1805.55 861.07C1808.16 861.63 1811.6 862.24 1813.06 862.24C1814.52 862.24 1815.88 861.53 1817.24 861.07C1818.59 860.61 1822.24 859.09 1823.91 858.56C1825.58 858.04 1828.29 857.27 1830.59 856.89C1832.89 856.52 1838.73 855.87 1842.27 855.56C1845.82 855.25 1855.42 854.47 1858.97 854.39C1862.51 854.31 1868.02 854.68 1870.65 854.89C1873.28 855.1 1876.74 855.5 1880 856.06C1883.26 856.62 1892.52 858.46 1896.69 859.35C1900.87 860.24 1909.21 862.42 1913.39 863.19C1917.56 863.96 1926.32 865.03 1930.08 865.53C1933.83 866.03 1940.51 866.99 1943.43 867.2C1946.35 867.41 1950.84 866.99 1953.45 867.2C1956.06 867.41 1961.79 868.95 1964.3 868.87C1966.8 868.78 1971.08 867.03 1973.48 866.53C1975.88 866.03 1980.57 865.13 1983.49 864.86C1986.41 864.59 1993.09 864.28 1996.85 864.36C2000.6 864.44 2009.37 865.17 2013.54 865.53C2017.71 865.88 2026.06 866.51 2030.23 867.2C2034.41 867.89 2042.75 870.03 2046.93 871.04C2051.1 872.04 2059.44 873.85 2063.62 875.21C2067.79 876.57 2076.14 880.01 2080.31 881.89C2084.48 883.76 2092.83 888.15 2097 890.23C2101.18 892.32 2109.52 896.49 2113.7 898.58C2117.87 900.67 2125.59 904.32 2130.39 906.93C2135.19 909.53 2147.5 917.05 2152.09 919.44C2156.68 921.84 2163.15 924.56 2167.11 926.12C2171.08 927.69 2180.05 930.61 2183.8 931.96C2187.56 933.32 2193.82 935.62 2197.16 936.97C2200.5 938.33 2207.8 941.67 2210.51 942.81C2213.22 943.96 2217.09 945.74 2218.86 946.15C2220.63 946.57 2223.24 946.78 2224.7 946.15C2226.16 945.53 2228.98 942.4 2230.54 941.15C2232.11 939.89 2235.13 937.49 2237.22 936.14C2239.31 934.78 2244.73 932.07 2247.24 930.3C2249.74 928.52 2254.54 924.35 2257.25 921.95C2259.96 919.55 2266.02 913.85 2268.94 911.1C2271.86 908.34 2277.97 902.06 2280.62 899.91C2283.27 897.77 2288.95 894.66 2290.14 893.91" fill="none" stroke="#f23645" stroke-width="1.5" stroke-linejoin="round"/>
<path d="M1530.96 736.71C1531.69 736.92 1534.4 737.96 1536.8 738.38C1539.2 738.79 1546.4 739.63 1550.16 740.05C1553.91 740.46 1562.67 741.3 1566.85 741.72C1571.02 742.13 1579.37 742.93 1583.54 743.39C1587.71 743.84 1596.06 744.97 1600.23 745.39C1604.41 745.81 1612.13 746.24 1616.93 746.72C1621.72 747.2 1633.41 748.54 1638.63 749.23C1643.84 749.92 1653.02 751.46 1658.66 752.23C1664.29 753 1678.48 754.72 1683.7 755.4C1688.91 756.09 1696.22 757.22 1700.39 757.74C1704.56 758.26 1712.91 759.08 1717.08 759.58C1721.25 760.08 1729.6 761.2 1733.77 761.75C1737.95 762.29 1746.29 763.35 1750.47 763.92C1754.64 764.48 1762.99 765.65 1767.16 766.25C1771.33 766.86 1779.68 768.13 1783.85 768.76C1788.02 769.38 1797.41 770.82 1800.54 771.26C1803.67 771.7 1805.76 771.99 1808.89 772.26C1812.02 772.53 1820.37 773.08 1825.58 773.43C1830.8 773.79 1843.82 774.58 1850.62 775.1C1857.42 775.62 1872.15 776.78 1880 777.6C1887.85 778.43 1905.04 780.69 1913.39 781.73C1921.73 782.77 1940.51 785.17 1946.77 785.9C1953.03 786.63 1959.29 787.26 1963.46 787.57C1967.64 787.89 1973.9 787.93 1980.16 788.41C1986.41 788.89 2006.24 790.75 2013.54 791.41C2020.84 792.08 2032.32 793.04 2038.58 793.75C2044.84 794.46 2056.32 795.98 2063.62 797.09C2070.92 798.19 2088.66 801.18 2097 802.6C2105.35 804.02 2122.04 806.87 2130.39 808.44C2138.73 810 2155.43 813.55 2163.77 815.12C2172.12 816.68 2189.86 819.71 2197.16 820.96C2204.46 822.21 2215.94 824.57 2222.2 825.13C2228.46 825.7 2242.02 825.47 2247.24 825.47C2252.45 825.47 2259.76 825.28 2263.93 825.13C2268.1 824.99 2277.35 824.46 2280.62 824.3C2283.9 824.13 2288.95 823.86 2290.14 823.8" fill="none" stroke="#2962ff" stroke-width="1.9" stroke-linejoin="round"/>
<path d="M166.5 703.22V809.7M173.5 738.28V805.53M180.5 790V829.4M188.5 812.37V841.75M195.5 794.18V828.56M202.5 802.19V834.74M209.5 810.03V843.59M217.5 833.07V856.77M224.5 855.44V926.38M231.5 919.2V977.46M238.5 920.2V977.46M245.5 895.17V1099.8M253.5 1014.18V1101.97M260.5 1059.07V1094.45M267.5 1064.07V1155.38M274.5 989.98V1155.38M282.5 986.14V1026.35M289.5 979.13V1036.87M296.5 974.12V1008.68M303.5 966.28V1003.67M310.5 932.39V988.81M318.5 901.18V962.77M325.5 926.21V962.77M332.5 923.21V949.42M339.5 825.22V969.61M347.5 726.09V842.75M354.5 573.02V753.63M361.5 599.23V619.59M368.5 568.01V629.77M375.5 603.07V662.66M383.5 623.1V668.84M390.5 654.31V698.38M397.5 698.38V758.64M404.5 720.25V757.47M412.5 741.11V779.67M419.5 742.28V761.65M426.5 753.63V782.51M433.5 781.68V824.72M441.5 736.11V797.51M448.5 702.22V757.47M455.5 695.21V745.29M462.5 743.12V801.85M469.5 786.18V808.53M477.5 763.98V793.51M484.5 748.29V775.33M491.5 744.45V774.5M498.5 742.28V801.69M506.5 798.35V864.79M513.5 848.09V907.52M520.5 902.34V974.96M527.5 935.23V960.77M534.5 936.23V977.79M542.5 847.26V939.4M549.5 918.2V945.74M556.5 928.22V948.75M563.5 879.31V950.75M571.5 839.25V893.5M578.5 849.26V882.48M585.5 851.93V885.65M592.5 854.41V876.44M599.5 875.11V932.36M607.5 895.31V940.88M614.5 906.99V934.53M621.5 932.03V943.71M628.5 940.38V997.63M636.5 980.1V1034.83M643.5 972.93V1019.33M650.5 954.06V1007.65M657.5 1000.13V1016.66M664.5 971.26V1007.48M672.5 983.27V995.79M679.5 985.11V1009.65M686.5 932.36V1005.48M693.5 916.17V966.75M701.5 927.02V959.24M708.5 926.19V983.78M715.5 964.91V993.46M722.5 989.28V1030.51M729.5 1012.99V1034.83M737.5 1033.02V1085.75M744.5 1021.83V1117.8M751.5 1034V1070.72M758.5 1055.2V1097.77M766.5 1083.24V1139.66M773.5 1105.28V1154.69M780.5 970.09V1132.49M787.5 641.1V1019.66M794.5 783.32V838.55M802.5 565V820.69M809.5 380.05V601.87M816.5 454.33V572.85M823.5 519.43V572.85M831.5 493.89V546.64M838.5 546.3V634.75M845.5 588.35V660.63M852.5 634.25V728.73M859.5 615.06V752.77M867.5 671.14V703.69M874.5 670.14V703.69M881.5 651.45V705.86M888.5 650.28V767.79M896.5 703.19V840.72M903.5 644.27V808.5M910.5 780.31V863.92M917.5 655.12V1357.69M924.5 422.95V747.93M932.5 393.07V519.93M939.5 478.87V586.68M946.5 491.05V584.68M953.5 508.91V565.67M961.5 564.17V600.87M968.5 581.34V632.75M975.5 608.05V624.74M982.5 534.95V620.57M989.5 548.98V580.84M997.5 574.18V608.88M1004.5 575.35V604.71M1011.5 571.18V595.53M1018.5 591.02V617.73M1026.5 600.99V622.69M1033.5 617.35V672.77M1040.5 644.06V700.31M1047.5 661.08V729.67M1054.5 680.28V724.85M1062.5 522.03V725.85M1069.5 566.27V626.86M1076.5 609V648.56M1083.5 611.01V628.03M1091.5 566.27V617.68M1098.5 543.07V580.96M1105.5 567.1V582.96M1112.5 540.06V582.96M1119.5 557.09V573.45M1127.5 563.1V577.62M1134.5 560.09V589.81M1141.5 578.12V590.64M1148.5 576.28V598.82M1156.5 587.14V598.49M1163.5 595.98V611.01M1170.5 605.16V642.72M1177.5 634.04V673.94M1184.5 653.24V717.84M1192.5 659.08V728.83M1199.5 666.93V700.81M1206.5 684.12V724.01M1213.5 715.33V766.73M1221.5 757.55V800.61M1228.5 763.05V792.6M1235.5 791.6V828.66M1242.5 800.11V819.64M1249.5 811.46V831.66M1257.5 773.07V821.65M1264.5 757.21V787.26M1271.5 741.02V791.6M1278.5 763.05V786.76M1286.5 767.23V787.59M1293.5 772.24V791.6M1300.5 780.25V813.63M1307.5 805.29V815.64M1314.5 788.09V817.64M1322.5 800.11V820.64M1329.5 763.89V808.62M1336.5 784.25V815.64M1343.5 786.09V825.65M1351.5 790.1V830.66M1358.5 798.11V814.8M1365.5 801.45V817.64M1372.5 798.11V851.69M1379.5 839.51V858.7M1387.5 843.18V859.7M1394.5 854.36V864.55M1401.5 861.21V873.73M1408.5 841.18V869.55M1416.5 805.29V865.71M1423.5 798.11V828.66M1430.5 808.29V838.67M1437.5 817.31V838.67M1444.5 831.16V849.69M1452.5 828.18V845.54M1459.5 841.37V871.58M1466.5 865.24V911.65M1473.5 810.16V911.65M1481.5 718.01V829.52M1488.5 769.26V839.87M1495.5 829.35V1089.57M1502.5 1006.11V1083.73M1510.5 915.32V1054.85M1517.5 844.04V1006.77M1524.5 954.69V1038.66M1531.5 996.92V1057.85M1538.5 980.23V1057.85M1546.5 821.01V1017.79M1553.5 782.11V881.6M1560.5 778.94V856.89M1567.5 735.04V862.74M1575.5 791.29V847.71M1582.5 805.48V856.89M1589.5 846.88V901.63M1596.5 865.24V884.77M1603.5 871.92V907.81M1611.5 794.3V890.61M1618.5 800.14V839.87M1625.5 805.15V846.88M1632.5 825.18V857.73M1640.5 832.19V871.58M1647.5 854.39V897.79M1654.5 862.24V903.63M1661.5 863.24V886.61M1668.5 877.26V934.51M1676.5 874.42V907.81M1683.5 855.23V890.61M1690.5 878.26V898.63M1697.5 883.27V908.64M1705.5 858.06V910.64M1712.5 852.22V885.61M1719.5 849.05V892.78M1726.5 857.23V881.6M1733.5 873.25V896.62M1741.5 865.24V893.62M1748.5 887.27V917.82M1755.5 896.12V953.86M1762.5 931.18V948.85M1770.5 899.13V955.86M1777.5 879.93V913.98M1784.5 894.95V915.65M1791.5 894.95V916.65M1798.5 894.95V914.48M1806.5 891.11V915.65M1813.5 885.27V905.3M1820.5 794.3V910.81M1827.5 797.97V844.88M1835.5 802.14V843.54M1842.5 823.18V845.54M1849.5 831.35V868.91M1856.5 817.17V848.55M1863.5 834.86V855.56M1871.5 843.04V862.74M1878.5 848.55V882.77M1885.5 871.04V891.57M1892.5 883.89V894.74M1900.5 891.07V909.93M1907.5 876.04V908.59M1914.5 889.06V940.81M1921.5 858.02V907.43M1928.5 885.23V904.92M1936.5 890.23V910.76M1943.5 887.23V918.94M1950.5 863.19V896.91M1957.5 849V885.73M1965.5 877.21V918.94M1972.5 788.07V914.94M1979.5 796.25V834.81M1986.5 822.96V855.68M1993.5 849.34V896.08M2001.5 863.52V873.54M2008.5 869.87V884.89M2015.5 859.85V880.72M2022.5 878.21V896.91M2030.5 875.38V909.76M2037.5 856.01V903.92M2044.5 895.24V912.43M2051.5 908.93V933.97M2058.5 917.27V932.8M2066.5 924.45V963.68M2073.5 934.47V955.33M2080.5 954.17V981.46M2087.5 975.95V992.64M2095.5 988.47V1022.69M2102.5 992.14V1026.86M2109.5 1008.17V1028.87M2116.5 1016.35V1068.93M2123.5 1017.18V1039.55M2131.5 1018.18V1049.57M2138.5 1040.22V1052.74M2145.5 1050.23V1076.94M2152.5 1042.22V1058.91M2160.5 1004.33V1068.93M2167.5 999.32V1034.88M2174.5 968.11V1028.2M2181.5 992.14V1011.51M2188.5 1000.99V1014.84M2196.5 993.98V1014.84M2203.5 993.14V1031.87M2210.5 1019.02V1043.56M2217.5 1036.38V1062.75M2225.5 933.13V1073.94M2232.5 827.14V974.78M2239.5 782.23V863.02M2246.5 817.12V854.01M2253.5 815.12V848M2261.5 760.03V833.98M2268.5 775.89V815.95M2275.5 792.25V869.87M2282.5 768.04V832.98M2290.5 777.06V807.94" stroke="#737373" stroke-width="1" fill="none"/>
<path d="M164.5 704.5H168.5V754.5H164.5ZM171.5 754.5H175.5V805.5H171.5ZM178.5 805.5H182.5V829.5H178.5ZM193.5 812.5H197.5V822.5H193.5ZM200.5 823.5H204.5V826.5H200.5ZM207.5 826.5H211.5V840.5H207.5ZM215.5 840.5H219.5V855.5H215.5ZM222.5 855.5H226.5V926.5H222.5ZM229.5 926.5H233.5V977.5H229.5ZM243.5 945.5H247.5V1085.5H243.5ZM251.5 1085.5H255.5V1094.5H251.5ZM265.5 1068.5H269.5V1155.5H265.5ZM294.5 988.5H298.5V993.5H294.5ZM316.5 932.5H320.5V949.5H316.5ZM359.5 603.5H363.5V617.5H359.5ZM373.5 610.5H377.5V644.5H373.5ZM381.5 644.5H385.5V656.5H381.5ZM388.5 656.5H392.5V698.5H388.5ZM395.5 698.5H399.5V740.5H395.5ZM402.5 740.5H406.5V756.5H402.5ZM417.5 748.5H421.5V754.5H417.5ZM424.5 754.5H428.5V781.5H424.5ZM431.5 782.5H435.5V797.5H431.5ZM453.5 719.5H457.5V745.5H453.5ZM460.5 745.5H464.5V788.5H460.5ZM467.5 788.5H471.5V791.5H467.5ZM496.5 744.5H500.5V798.5H496.5ZM504.5 798.5H508.5V855.5H504.5ZM511.5 855.5H515.5V907.5H511.5ZM518.5 907.5H522.5V955.5H518.5ZM554.5 933.5H558.5V936.5H554.5ZM576.5 854.5H580.5V882.5H576.5ZM590.5 856.5H594.5V876.5H590.5ZM597.5 876.5H601.5V932.5H597.5ZM612.5 909.5H616.5V933.5H612.5ZM619.5 933.5H623.5V940.5H619.5ZM626.5 940.5H630.5V996.5H626.5ZM634.5 996.5H638.5V1019.5H634.5ZM648.5 998.5H652.5V1004.5H648.5ZM655.5 1005.5H659.5V1007.5H655.5ZM670.5 988.5H674.5V990.5H670.5ZM677.5 990.5H681.5V1005.5H677.5ZM691.5 944.5H695.5V959.5H691.5ZM706.5 928.5H710.5V970.5H706.5ZM713.5 970.5H717.5V989.5H713.5ZM720.5 989.5H724.5V1030.5H720.5ZM727.5 1031.5H731.5V1034.5H727.5ZM735.5 1033.5H739.5V1084.5H735.5ZM749.5 1034.5H753.5V1067.5H749.5ZM756.5 1067.5H760.5V1087.5H756.5ZM764.5 1087.5H768.5V1136.5H764.5ZM792.5 796.5H796.5V815.5H792.5ZM814.5 454.5H818.5V519.5H814.5ZM821.5 519.5H825.5V529.5H821.5ZM829.5 529.5H833.5V546.5H829.5ZM836.5 546.5H840.5V600.5H836.5ZM843.5 600.5H847.5V649.5H843.5ZM850.5 649.5H854.5V724.5H850.5ZM872.5 687.5H876.5V696.5H872.5ZM886.5 651.5H890.5V761.5H886.5ZM894.5 761.5H898.5V806.5H894.5ZM908.5 793.5H912.5V847.5H908.5ZM930.5 484.5H934.5V497.5H930.5ZM937.5 496.5H941.5V525.5H937.5ZM951.5 520.5H955.5V565.5H951.5ZM959.5 565.5H963.5V583.5H959.5ZM966.5 584.5H970.5V609.5H966.5ZM973.5 609.5H977.5V620.5H973.5ZM987.5 557.5H991.5V574.5H987.5ZM995.5 575.5H999.5V591.5H995.5ZM1009.5 575.5H1013.5V592.5H1009.5ZM1016.5 592.5H1020.5V615.5H1016.5ZM1024.5 616.5H1028.5V621.5H1024.5ZM1031.5 621.5H1035.5V668.5H1031.5ZM1038.5 668.5H1042.5V700.5H1038.5ZM1052.5 694.5H1056.5V711.5H1052.5ZM1067.5 584.5H1071.5V614.5H1067.5ZM1074.5 615.5H1078.5V621.5H1074.5ZM1096.5 571.5H1100.5V576.5H1096.5ZM1117.5 561.5H1121.5V573.5H1117.5ZM1132.5 574.5H1136.5V579.5H1132.5ZM1139.5 579.5H1143.5V590.5H1139.5ZM1154.5 592.5H1158.5V598.5H1154.5ZM1161.5 598.5H1165.5V608.5H1161.5ZM1168.5 609.5H1172.5V640.5H1168.5ZM1175.5 640.5H1179.5V664.5H1175.5ZM1182.5 664.5H1186.5V710.5H1182.5ZM1204.5 685.5H1208.5V716.5H1204.5ZM1211.5 717.5H1215.5V757.5H1211.5ZM1219.5 758.5H1223.5V778.5H1219.5ZM1226.5 778.5H1230.5V791.5H1226.5ZM1233.5 792.5H1237.5V802.5H1233.5ZM1240.5 803.5H1244.5V811.5H1240.5ZM1247.5 811.5H1251.5V819.5H1247.5ZM1269.5 764.5H1273.5V777.5H1269.5ZM1276.5 777.5H1280.5V780.5H1276.5ZM1291.5 774.5H1295.5V782.5H1291.5ZM1298.5 782.5H1302.5V812.5H1298.5ZM1320.5 805.5H1324.5V807.5H1320.5ZM1334.5 789.5H1338.5V809.5H1334.5ZM1349.5 795.5H1353.5V801.5H1349.5ZM1356.5 801.5H1360.5V803.5H1356.5ZM1363.5 803.5H1367.5V817.5H1363.5ZM1370.5 817.5H1374.5V840.5H1370.5ZM1377.5 841.5H1381.5V845.5H1377.5ZM1385.5 846.5H1389.5V856.5H1385.5ZM1392.5 857.5H1396.5V864.5H1392.5ZM1399.5 865.5H1403.5V869.5H1399.5ZM1421.5 813.5H1425.5V816.5H1421.5ZM1428.5 816.5H1432.5V827.5H1428.5ZM1435.5 827.5H1439.5V833.5H1435.5ZM1442.5 833.5H1446.5V840.5H1442.5ZM1457.5 841.5H1461.5V869.5H1457.5ZM1464.5 869.5H1468.5V902.5H1464.5ZM1486.5 773.5H1490.5V831.5H1486.5ZM1493.5 832.5H1497.5V1071.5H1493.5ZM1515.5 920.5H1519.5V960.5H1515.5ZM1522.5 961.5H1526.5V1014.5H1522.5ZM1529.5 1013.5H1533.5V1055.5H1529.5ZM1551.5 841.5H1555.5V853.5H1551.5ZM1565.5 811.5H1569.5V839.5H1565.5ZM1580.5 810.5H1584.5V848.5H1580.5ZM1587.5 848.5H1591.5V866.5H1587.5ZM1594.5 866.5H1598.5V879.5H1594.5ZM1601.5 879.5H1605.5V882.5H1601.5ZM1616.5 804.5H1620.5V834.5H1616.5ZM1630.5 826.5H1634.5V847.5H1630.5ZM1638.5 847.5H1642.5V857.5H1638.5ZM1645.5 857.5H1649.5V887.5H1645.5ZM1659.5 871.5H1663.5V884.5H1659.5ZM1666.5 884.5H1670.5V903.5H1666.5ZM1695.5 883.5H1699.5V908.5H1695.5ZM1724.5 863.5H1728.5V881.5H1724.5ZM1731.5 881.5H1735.5V885.5H1731.5ZM1739.5 885.5H1743.5V888.5H1739.5ZM1746.5 888.5H1750.5V899.5H1746.5ZM1753.5 899.5H1757.5V934.5H1753.5ZM1760.5 935.5H1764.5V944.5H1760.5ZM1782.5 899.5H1786.5V901.5H1782.5ZM1789.5 901.5H1793.5V904.5H1789.5ZM1796.5 904.5H1800.5V914.5H1796.5ZM1811.5 901.5H1815.5V904.5H1811.5ZM1833.5 803.5H1837.5V829.5H1833.5ZM1840.5 829.5H1844.5V841.5H1840.5ZM1847.5 842.5H1851.5V844.5H1847.5ZM1861.5 839.5H1865.5V855.5H1861.5ZM1869.5 855.5H1873.5V860.5H1869.5ZM1876.5 861.5H1880.5V880.5H1876.5ZM1883.5 880.5H1887.5V891.5H1883.5ZM1890.5 891.5H1894.5V893.5H1890.5ZM1898.5 893.5H1902.5V906.5H1898.5ZM1912.5 896.5H1916.5V907.5H1912.5ZM1926.5 886.5H1930.5V897.5H1926.5ZM1934.5 897.5H1938.5V909.5H1934.5ZM1955.5 866.5H1959.5V879.5H1955.5ZM1963.5 879.5H1967.5V909.5H1963.5ZM1977.5 823.5H1981.5V828.5H1977.5ZM1984.5 828.5H1988.5V851.5H1984.5ZM1991.5 852.5H1995.5V863.5H1991.5ZM1999.5 864.5H2003.5V871.5H1999.5ZM2013.5 872.5H2017.5V879.5H2013.5ZM2020.5 878.5H2024.5V891.5H2020.5ZM2035.5 875.5H2039.5V898.5H2035.5ZM2042.5 898.5H2046.5V912.5H2042.5ZM2049.5 912.5H2053.5V923.5H2049.5ZM2056.5 923.5H2060.5V925.5H2056.5ZM2064.5 925.5H2068.5V935.5H2064.5ZM2071.5 935.5H2075.5V955.5H2071.5ZM2078.5 955.5H2082.5V981.5H2078.5ZM2085.5 981.5H2089.5V988.5H2085.5ZM2093.5 989.5H2097.5V1022.5H2093.5ZM2107.5 1009.5H2111.5V1027.5H2107.5ZM2114.5 1027.5H2118.5V1039.5H2114.5ZM2129.5 1034.5H2133.5V1049.5H2129.5ZM2136.5 1048.5H2140.5V1051.5H2136.5ZM2143.5 1052.5H2147.5V1057.5H2143.5ZM2179.5 1009.5H2183.5V1011.5H2179.5ZM2194.5 1004.5H2198.5V1013.5H2194.5ZM2201.5 1014.5H2205.5V1029.5H2201.5ZM2208.5 1029.5H2212.5V1042.5H2208.5ZM2215.5 1042.5H2219.5V1058.5H2215.5ZM2244.5 833.5H2248.5V842.5H2244.5ZM2266.5 791.5H2270.5V810.5H2266.5ZM2288.5 778.5H2292.5V806.5H2288.5Z" fill="#e0553f" stroke="#5e1b15" stroke-width="1"/>
<path d="M186.5 812.5H190.5V829.5H186.5ZM236.5 945.5H240.5V977.5H236.5ZM258.5 1068.5H262.5V1094.5H258.5ZM272.5 1026.5H276.5V1155.5H272.5ZM280.5 1021.5H284.5V1026.5H280.5ZM287.5 988.5H291.5V1020.5H287.5ZM301.5 983.5H305.5V993.5H301.5ZM308.5 932.5H312.5V983.5H308.5ZM330.5 938.5H334.5V949.5H330.5ZM337.5 834.5H341.5V938.5H337.5ZM345.5 733.5H349.5V834.5H345.5ZM352.5 603.5H356.5V733.5H352.5ZM366.5 610.5H370.5V617.5H366.5ZM410.5 748.5H414.5V756.5H410.5ZM439.5 754.5H443.5V797.5H439.5ZM446.5 719.5H450.5V754.5H446.5ZM475.5 772.5H479.5V791.5H475.5ZM482.5 755.5H486.5V772.5H482.5ZM489.5 744.5H493.5V755.5H489.5ZM525.5 944.5H529.5V955.5H525.5ZM532.5 939.5H536.5V944.5H532.5ZM540.5 931.5H544.5V939.5H540.5ZM561.5 892.5H565.5V936.5H561.5ZM569.5 854.5H573.5V892.5H569.5ZM583.5 856.5H587.5V882.5H583.5ZM605.5 909.5H609.5V932.5H605.5ZM641.5 998.5H645.5V1019.5H641.5ZM662.5 988.5H666.5V1007.5H662.5ZM684.5 944.5H688.5V1005.5H684.5ZM699.5 928.5H703.5V959.5H699.5ZM742.5 1034.5H746.5V1084.5H742.5ZM771.5 1127.5H775.5V1136.5H771.5ZM778.5 999.5H782.5V1127.5H778.5ZM785.5 796.5H789.5V999.5H785.5ZM800.5 581.5H804.5V815.5H800.5ZM807.5 454.5H811.5V581.5H807.5ZM857.5 700.5H861.5V724.5H857.5ZM865.5 687.5H869.5V700.5H865.5ZM879.5 651.5H883.5V696.5H879.5ZM901.5 793.5H905.5V806.5H901.5ZM915.5 743.5H919.5V846.5H915.5ZM922.5 484.5H926.5V743.5H922.5ZM944.5 520.5H948.5V525.5H944.5ZM980.5 557.5H984.5V620.5H980.5ZM1002.5 575.5H1006.5V591.5H1002.5ZM1045.5 694.5H1049.5V699.5H1045.5ZM1060.5 584.5H1064.5V711.5H1060.5ZM1081.5 616.5H1085.5V621.5H1081.5ZM1089.5 571.5H1093.5V615.5H1089.5ZM1110.5 561.5H1114.5V576.5H1110.5ZM1190.5 699.5H1194.5V710.5H1190.5ZM1197.5 685.5H1201.5V699.5H1197.5ZM1255.5 786.5H1259.5V819.5H1255.5ZM1262.5 764.5H1266.5V787.5H1262.5ZM1284.5 774.5H1288.5V780.5H1284.5ZM1305.5 810.5H1309.5V812.5H1305.5ZM1312.5 805.5H1316.5V810.5H1312.5ZM1327.5 789.5H1331.5V807.5H1327.5ZM1341.5 795.5H1345.5V809.5H1341.5ZM1406.5 848.5H1410.5V869.5H1406.5ZM1414.5 813.5H1418.5V848.5H1414.5ZM1471.5 827.5H1475.5V902.5H1471.5ZM1479.5 773.5H1483.5V827.5H1479.5ZM1500.5 1047.5H1504.5V1071.5H1500.5ZM1508.5 920.5H1512.5V1047.5H1508.5ZM1536.5 1002.5H1540.5V1054.5H1536.5ZM1544.5 841.5H1548.5V1002.5H1544.5ZM1558.5 811.5H1562.5V854.5H1558.5ZM1573.5 810.5H1577.5V839.5H1573.5ZM1609.5 804.5H1613.5V882.5H1609.5ZM1623.5 826.5H1627.5V834.5H1623.5ZM1652.5 871.5H1656.5V887.5H1652.5ZM1674.5 885.5H1678.5V903.5H1674.5ZM1681.5 882.5H1685.5V885.5H1681.5ZM1703.5 872.5H1707.5V908.5H1703.5ZM1717.5 863.5H1721.5V872.5H1717.5ZM1768.5 909.5H1772.5V944.5H1768.5ZM1775.5 899.5H1779.5V908.5H1775.5ZM1804.5 901.5H1808.5V914.5H1804.5ZM1818.5 812.5H1822.5V904.5H1818.5ZM1825.5 803.5H1829.5V812.5H1825.5ZM1854.5 839.5H1858.5V844.5H1854.5ZM1905.5 896.5H1909.5V906.5H1905.5ZM1919.5 886.5H1923.5V907.5H1919.5ZM1941.5 894.5H1945.5V909.5H1941.5ZM1948.5 866.5H1952.5V894.5H1948.5ZM1970.5 823.5H1974.5V909.5H1970.5ZM2028.5 875.5H2032.5V891.5H2028.5ZM2100.5 1009.5H2104.5V1022.5H2100.5ZM2121.5 1034.5H2125.5V1039.5H2121.5ZM2150.5 1052.5H2154.5V1057.5H2150.5ZM2158.5 1028.5H2162.5V1051.5H2158.5ZM2165.5 1022.5H2169.5V1028.5H2165.5ZM2172.5 1009.5H2176.5V1022.5H2172.5ZM2186.5 1004.5H2190.5V1011.5H2186.5ZM2223.5 967.5H2227.5V1058.5H2223.5ZM2230.5 832.5H2234.5V967.5H2230.5ZM2251.5 826.5H2255.5V842.5H2251.5ZM2259.5 791.5H2263.5V826.5H2259.5ZM2273.5 796.5H2277.5V810.5H2273.5ZM2280.5 778.5H2284.5V796.5H2280.5Z" fill="#6dab8b" stroke="#1f5c3c" stroke-width="1"/>
<path d="M323 949.5H328M1103 576.5H1108M1450 840.5H1455M1688 883.5H1693M1710 872.5H1715" stroke="#5e1b15" stroke-width="1" fill="none"/>
<path d="M547 932H552V934H547ZM1125 573H1130V575H1125ZM1146 591H1151V593H1146ZM2006 872H2011V874H2006ZM2237 832H2242V834H2237Z" fill="#a5382b"/>
<path d="M163.5 806.5H2499" stroke="#dc5543" stroke-width="1.1" stroke-dasharray="1.4 2.95" fill="none"/>
<path d="M16 290.5H2728M16 1357.5H2728" stroke="#3a3a3a" stroke-width="1.4" fill="none"/>
<path d="M162.5 43V1401M2581.5 43V1401" stroke="#666" stroke-width="1.1" fill="none"/>
<path d="M2502 794H2581.5V819H2502a3 3 0 0 1-3-3V797a3 3 0 0 1 3-3Z" fill="#d9503f"/>
<path d="M2581.5 794H2706a3.5 3.5 0 0 1 3.5 3.5V836a3.5 3.5 0 0 1-3.5 3.5H2581.5Z" fill="#d9503f"/>
<circle cx="90" cy="1379.7" r="15.2" fill="rgba(255,255,255,0.35)"/><circle cx="2655" cy="1379.7" r="15.2" fill="rgba(255,255,255,0.35)"/>
<g fill="#dcdcdc"><path d="M15.8 1420.3H29V1435.7H22V1427.3H15.8Z"/><circle cx="33.7" cy="1424" r="3.55"/><path d="M39.8 1420.3H47.3L41.4 1435.7H34Z"/></g>
</svg>
<div id="tx" style="position:absolute;left:0;top:0;width:2744px;height:1457px;will-change:transform">
<div style="position:absolute;left:2587px;top:297px;width:136.5px;height:40.5px;border-radius:5px;background:#fff;z-index:3"></div>
<div class="t" style="left:16.3px;top:14.87px;font-size:20px;color:#dedede;letter-spacing:0.127px;">bitcoinwallah published on TradingView.com, Mar 08, 2025 11:22 UTC</div>
<div class="t" style="left:53.8px;top:1420.17px;font-size:20px;color:#dedede;letter-spacing:0.794px;">TradingView</div>
<div class="t" style="left:176.7px;top:59.66px;font-size:18px;color:#4a4a4a;letter-spacing:0.582px;">RSI (14, close)</div>
<div class="t" style="left:317.8px;top:59.66px;font-size:18px;color:#7e57c2;letter-spacing:1.338px;">65.28</div>
<div class="t" style="left:380.7px;top:59.66px;font-size:18px;color:#fdd835;letter-spacing:0.838px;">61.49</div>
<div class="t" style="left:176.2px;top:307.46px;font-size:18px;color:#4a4a4a;letter-spacing:0.669px;">XRP / Bitcoin · 2W · BINANCE</div>
<div class="t" style="left:451.2px;top:307.46px;font-size:18px;color:#4a4a4a;">O</div>
<div class="t" style="left:466.5px;top:307.46px;font-size:18px;color:#5d1a14;letter-spacing:1.293px;">0.00003118</div>
<div class="t" style="left:584px;top:307.46px;font-size:18px;color:#4a4a4a;">H</div>
<div class="t" style="left:598.9px;top:307.46px;font-size:18px;color:#5d1a14;letter-spacing:1.399px;">0.00003145</div>
<div class="t" style="left:719.4px;top:307.46px;font-size:18px;color:#4a4a4a;">L</div>
<div class="t" style="left:731.5px;top:307.46px;font-size:18px;color:#5d1a14;letter-spacing:1.710px;">0.00002668</div>
<div class="t" style="left:853.8px;top:307.46px;font-size:18px;color:#4a4a4a;">C</div>
<div class="t" style="left:868.6px;top:307.46px;font-size:18px;color:#5d1a14;letter-spacing:1.510px;">0.00002700</div>
<div class="t" style="left:990px;top:307.46px;font-size:18px;color:#5d1a14;letter-spacing:1.281px;">−0.00000419 (−13.43%)</div>
<div class="t" style="left:176.2px;top:334.66px;font-size:18px;color:#4a4a4a;letter-spacing:0.924px;">EMA (50, close, 0, EMA, 5)</div>
<div class="t" style="left:428.6px;top:334.66px;font-size:18px;color:#f23645;letter-spacing:1.388px;">0.00001709</div>
<div class="t" style="left:176.2px;top:361.56px;font-size:18px;color:#4a4a4a;letter-spacing:0.950px;">EMA (200, close, 0, EMA, 5)</div>
<div class="t" style="left:440.6px;top:361.56px;font-size:18px;color:#2962ff;letter-spacing:1.755px;">0.00002459</div>
<div class="t" style="left:176.2px;top:388.56px;font-size:18px;color:#4a4a4a;letter-spacing:0.421px;">Vol · XRP</div>
<div class="t" style="left:269.4px;top:388.56px;font-size:18px;color:#ef5350;letter-spacing:0.206px;">131.77 M</div>
<div class="t" style="left:33px;top:1340.4px;font-size:17px;color:#5c5c5c;letter-spacing:1.565px;">−0.60000000</div>
<div class="t" style="left:33px;top:1252.85px;font-size:17px;color:#5c5c5c;letter-spacing:1.565px;">−0.50000000</div>
<div class="t" style="left:33px;top:1165.3px;font-size:17px;color:#5c5c5c;letter-spacing:1.565px;">−0.40000000</div>
<div class="t" style="left:33px;top:1077.75px;font-size:17px;color:#5c5c5c;letter-spacing:1.565px;">−0.30000000</div>
<div class="t" style="left:33px;top:990.2px;font-size:17px;color:#5c5c5c;letter-spacing:1.565px;">−0.20000000</div>
<div class="t" style="left:33px;top:902.65px;font-size:17px;color:#5c5c5c;letter-spacing:1.565px;">−0.10000000</div>
<div class="t" style="left:44.3px;top:815.1px;font-size:17px;color:#5c5c5c;letter-spacing:1.586px;">0.00000000</div>
<div class="t" style="left:44.3px;top:727.55px;font-size:17px;color:#5c5c5c;letter-spacing:1.586px;">0.10000000</div>
<div class="t" style="left:44.3px;top:640px;font-size:17px;color:#5c5c5c;letter-spacing:1.586px;">0.20000000</div>
<div class="t" style="left:44.3px;top:552.45px;font-size:17px;color:#5c5c5c;letter-spacing:1.586px;">0.30000000</div>
<div class="t" style="left:44.3px;top:464.9px;font-size:17px;color:#5c5c5c;letter-spacing:1.586px;">0.40000000</div>
<div class="t" style="left:44.3px;top:377.35px;font-size:17px;color:#5c5c5c;letter-spacing:1.586px;">0.50000000</div>
<div class="t" style="left:44.3px;top:289.8px;font-size:17px;color:#5c5c5c;letter-spacing:1.586px;">0.60000000</div>
<div class="t" style="left:2595.6px;top:64.1px;font-size:17px;color:#5c5c5c;letter-spacing:1.588px;">80.00</div>
<div class="t" style="left:2595.6px;top:113.2px;font-size:17px;color:#5c5c5c;letter-spacing:1.588px;">60.00</div>
<div class="t" style="left:2595.6px;top:183.4px;font-size:17px;color:#5c5c5c;letter-spacing:1.588px;">40.00</div>
<div class="t" style="left:2595.6px;top:244.1px;font-size:17px;color:#5c5c5c;letter-spacing:1.588px;">28.00</div>
<div class="t" style="left:2595.8px;top:333.7px;font-size:17px;color:#5c5c5c;letter-spacing:1.597px;z-index:1">0.00030000</div>
<div class="t" style="left:2595.8px;top:393.7px;font-size:17px;color:#5c5c5c;letter-spacing:1.597px;z-index:1">0.00022000</div>
<div class="t" style="left:2595.8px;top:443.7px;font-size:17px;color:#5c5c5c;letter-spacing:1.597px;z-index:1">0.00017000</div>
<div class="t" style="left:2595.8px;top:495.7px;font-size:17px;color:#5c5c5c;letter-spacing:1.597px;z-index:1">0.00013000</div>
<div class="t" style="left:2595.8px;top:545.7px;font-size:17px;color:#5c5c5c;letter-spacing:1.597px;z-index:1">0.00010000</div>
<div class="t" style="left:2595.8px;top:601.7px;font-size:17px;color:#5c5c5c;letter-spacing:1.597px;z-index:1">0.00007500</div>
<div class="t" style="left:2595.8px;top:661.7px;font-size:17px;color:#5c5c5c;letter-spacing:1.597px;z-index:1">0.00005500</div>
<div class="t" style="left:2595.8px;top:722.7px;font-size:17px;color:#5c5c5c;letter-spacing:1.597px;z-index:1">0.00004000</div>
<div class="t" style="left:2595.8px;top:778.7px;font-size:17px;color:#5c5c5c;letter-spacing:1.597px;z-index:1">0.00003000</div>
<div class="t" style="left:2595.8px;top:837.7px;font-size:17px;color:#5c5c5c;letter-spacing:1.597px;z-index:1">0.00002200</div>
<div class="t" style="left:2595.8px;top:887.7px;font-size:17px;color:#5c5c5c;letter-spacing:1.597px;z-index:1">0.00001700</div>
<div class="t" style="left:2595.8px;top:939.7px;font-size:17px;color:#5c5c5c;letter-spacing:1.597px;z-index:1">0.00001300</div>
<div class="t" style="left:2595.8px;top:990.7px;font-size:17px;color:#5c5c5c;letter-spacing:1.597px;z-index:1">0.00001000</div>
<div class="t" style="left:2595.8px;top:1045.7px;font-size:17px;color:#5c5c5c;letter-spacing:1.597px;z-index:1">0.00000750</div>
<div class="t" style="left:2595.8px;top:1105.7px;font-size:17px;color:#5c5c5c;letter-spacing:1.597px;z-index:1">0.00000550</div>
<div class="t" style="left:2595.8px;top:1152.7px;font-size:17px;color:#5c5c5c;letter-spacing:1.597px;z-index:1">0.00000430</div>
<div class="t" style="left:2595.8px;top:1203.7px;font-size:17px;color:#5c5c5c;letter-spacing:1.597px;z-index:1">0.00000330</div>
<div class="t" style="left:2595.8px;top:1249.7px;font-size:17px;color:#5c5c5c;letter-spacing:1.597px;z-index:1">0.00000260</div>
<div class="t" style="left:2595.8px;top:1295.7px;font-size:17px;color:#5c5c5c;letter-spacing:1.597px;z-index:1">0.00000205</div>
<div class="t" style="left:2595.8px;top:1342.7px;font-size:17px;color:#5c5c5c;letter-spacing:1.597px;z-index:1">0.00000160</div>
<div class="t" style="left:2506.1px;top:798.83px;font-size:16.5px;color:#fff;letter-spacing:0.253px;z-index:5">XRPBTC</div>
<div class="t" style="left:2596px;top:798.71px;font-size:17px;color:#fff;letter-spacing:1.597px;z-index:5">0.00002700</div>
<div class="t" style="left:2596px;top:819.51px;font-size:17px;color:rgba(255,255,255,0.8);letter-spacing:1.300px;z-index:5">8d 13h</div>
<div class="t" style="left:2601.8px;top:308.66px;font-size:18px;color:#111;letter-spacing:0.500px;z-index:5">BTC</div>
<div class="t" style="left:1990.5px;top:714.2px;font-size:28px;color:#f23645;letter-spacing:0.271px;font-weight:700;-webkit-text-stroke:0;">DISTRIBUTION ZONE</div>
<div class="t" style="left:84.8px;top:1371.41px;font-size:17px;color:#4a4a4a;-webkit-text-stroke:0.5px #4a4a4a">Z</div>
<div class="t" style="left:2649.33px;top:1371.41px;font-size:17px;color:#4a4a4a;-webkit-text-stroke:0.5px #4a4a4a">A</div>
<div style="position:absolute;left:163.0px;top:1358.5px;width:2418.0px;height:42.5px;overflow:hidden"><div class="t" style="left:-5.6px;top:12.41px;font-size:17px;letter-spacing:2.791px;color:#484848;font-weight:700;-webkit-text-stroke:0;">2014</div><div class="t" style="left:99.95px;top:12.41px;font-size:17px;letter-spacing:0.683px;color:#555;">Jul</div><div class="t" style="left:182.4px;top:12.41px;font-size:17px;letter-spacing:2.791px;color:#484848;font-weight:700;-webkit-text-stroke:0;">2015</div><div class="t" style="left:288.15px;top:12.41px;font-size:17px;letter-spacing:0.683px;color:#555;">Jul</div><div class="t" style="left:370.4px;top:12.41px;font-size:17px;letter-spacing:2.791px;color:#484848;font-weight:700;-webkit-text-stroke:0;">2016</div><div class="t" style="left:475.95px;top:12.41px;font-size:17px;letter-spacing:0.683px;color:#555;">Jul</div><div class="t" style="left:558.5px;top:12.41px;font-size:17px;letter-spacing:2.791px;color:#484848;font-weight:700;-webkit-text-stroke:0;">2017</div><div class="t" style="left:663.95px;top:12.41px;font-size:17px;letter-spacing:0.683px;color:#555;">Jul</div><div class="t" style="left:746.3px;top:12.41px;font-size:17px;letter-spacing:2.791px;color:#484848;font-weight:700;-webkit-text-stroke:0;">2018</div><div class="t" style="left:851.95px;top:12.41px;font-size:17px;letter-spacing:0.683px;color:#555;">Jul</div><div class="t" style="left:941.6px;top:12.41px;font-size:17px;letter-spacing:2.791px;color:#484848;font-weight:700;-webkit-text-stroke:0;">2019</div><div class="t" style="left:1046.95px;top:12.41px;font-size:17px;letter-spacing:0.683px;color:#555;">Jul</div><div class="t" style="left:1128.5px;top:12.41px;font-size:17px;letter-spacing:2.791px;color:#484848;font-weight:700;-webkit-text-stroke:0;">2020</div><div class="t" style="left:1234.25px;top:12.41px;font-size:17px;letter-spacing:0.683px;color:#555;">Jul</div><div class="t" style="left:1316.5px;top:12.41px;font-size:17px;letter-spacing:2.791px;color:#484848;font-weight:700;-webkit-text-stroke:0;">2021</div><div class="t" style="left:1422.05px;top:12.41px;font-size:17px;letter-spacing:0.683px;color:#555;">Jul</div><div class="t" style="left:1504.4px;top:12.41px;font-size:17px;letter-spacing:2.791px;color:#484848;font-weight:700;-webkit-text-stroke:0;">2022</div><div class="t" style="left:1610.15px;top:12.41px;font-size:17px;letter-spacing:0.683px;color:#555;">Jul</div><div class="t" style="left:1692.6px;top:12.41px;font-size:17px;letter-spacing:2.791px;color:#484848;font-weight:700;-webkit-text-stroke:0;">2023</div><div class="t" style="left:1798.05px;top:12.41px;font-size:17px;letter-spacing:0.683px;color:#555;">Jul</div><div class="t" style="left:1880.7px;top:12.41px;font-size:17px;letter-spacing:2.791px;color:#484848;font-weight:700;-webkit-text-stroke:0;">2024</div><div class="t" style="left:1986.05px;top:12.41px;font-size:17px;letter-spacing:0.683px;color:#555;">Jul</div><div class="t" style="left:2075.7px;top:12.41px;font-size:17px;letter-spacing:2.791px;color:#484848;font-weight:700;-webkit-text-stroke:0;">2025</div><div class="t" style="left:2181.05px;top:12.41px;font-size:17px;letter-spacing:0.683px;color:#555;">Jul</div><div class="t" style="left:2262.4px;top:12.41px;font-size:17px;letter-spacing:2.791px;color:#484848;font-weight:700;-webkit-text-stroke:0;">2026</div><div class="t" style="left:2367.85px;top:12.41px;font-size:17px;letter-spacing:0.683px;color:#555;">Jul</div></div>
</div>
</body></html>
